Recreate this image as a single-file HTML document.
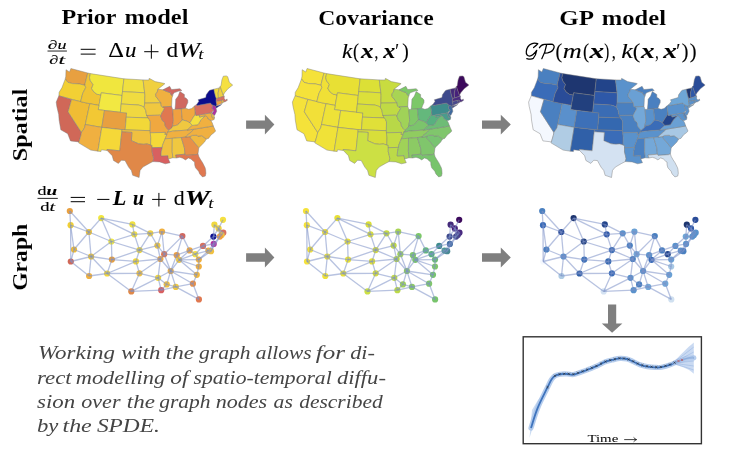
<!DOCTYPE html>
<html><head><meta charset="utf-8"><style>
html,body{margin:0;padding:0;background:#fff;width:737px;height:451px;overflow:hidden}
svg{display:block;filter:blur(0.4px)}
</style></head><body>
<svg width="737" height="451" viewBox="0 0 737 451" font-family='"Liberation Serif", serif'><rect width="737" height="451" fill="#ffffff"/><g stroke="#7c7c7c" stroke-width="0.45" stroke-linejoin="round"><path d="M66.0,69.7 L69.5,72.0 L70.9,68.5 L87.8,73.0 L85.1,83.5 L85.0,85.3 L79.1,83.9 L72.4,83.6 L67.8,82.3 L65.3,78.9 L65.8,76.2 L66.0,69.7Z" fill="#e8a040"/>
<path d="M65.3,78.9 L67.8,82.3 L72.4,83.6 L79.1,83.9 L85.0,85.3 L85.7,87.6 L83.3,92.3 L82.7,93.5 L80.6,101.7 L58.9,95.8 L59.1,92.3 L61.9,87.8 L65.3,78.9Z" fill="#f2d034"/>
<path d="M58.9,95.8 L71.6,99.5 L68.1,111.8 L81.5,132.5 L80.9,135.4 L79.0,141.9 L70.5,140.9 L67.7,133.7 L60.8,129.8 L59.1,120.0 L58.7,114.5 L56.8,106.4 L56.2,102.1 L58.9,95.8Z" fill="#d06858"/>
<path d="M71.6,99.5 L89.8,103.7 L85.3,124.5 L84.5,127.9 L81.5,132.5 L68.1,111.8Z" fill="#f0bc34"/>
<path d="M87.8,73.0 L90.4,73.6 L89.5,77.7 L90.4,80.9 L93.1,84.5 L91.6,88.5 L93.9,92.0 L97.2,94.3 L100.9,94.9 L99.0,105.4 L89.8,103.7 L80.6,101.7 L82.7,93.5 L83.3,92.3 L85.7,87.6 L85.0,85.3 L85.1,83.5Z" fill="#f0c434"/>
<path d="M90.4,73.6 L123.9,78.8 L122.1,95.5 L101.3,92.8 L100.9,94.9 L97.2,94.3 L93.9,92.0 L91.6,88.5 L93.1,84.5 L90.4,80.9 L89.5,77.7Z" fill="#f0e63e"/>
<path d="M101.3,92.8 L122.1,95.5 L120.3,112.4 L98.2,109.6Z" fill="#f2e842"/>
<path d="M89.8,103.7 L99.0,105.4 L98.2,109.6 L104.5,110.5 L101.8,127.4 L85.3,124.5Z" fill="#f2c834"/>
<path d="M104.5,110.5 L126.6,112.9 L125.2,129.9 L101.8,127.4Z" fill="#e8a040"/>
<path d="M85.3,124.5 L101.8,127.4 L97.9,151.2 L90.7,150.1 L78.5,142.8 L79.0,141.9 L80.9,135.4 L81.5,132.5 L84.5,127.9Z" fill="#f0b040"/>
<path d="M101.8,127.4 L122.0,129.7 L121.8,131.8 L119.8,150.8 L107.0,149.5 L107.2,150.5 L101.3,149.8 L101.0,151.6 L97.9,151.2Z" fill="#f5d838"/>
<path d="M123.9,78.8 L143.1,79.9 L144.7,92.8 L122.5,91.6Z" fill="#f0e040"/>
<path d="M122.5,91.6 L144.7,92.8 L144.9,95.5 L144.7,103.1 L144.2,107.3 L141.4,105.8 L138.3,105.0 L121.2,104.0Z" fill="#f0dc40"/>
<path d="M121.2,104.0 L138.3,105.0 L141.4,105.8 L144.2,107.3 L145.7,110.3 L146.3,113.7 L148.1,117.9 L126.3,117.2 L126.6,112.9 L120.3,112.4Z" fill="#f0d840"/>
<path d="M126.3,117.2 L148.1,117.9 L149.4,119.6 L150.3,121.8 L150.2,130.7 L125.2,129.9Z" fill="#f2d838"/>
<path d="M122.0,129.7 L150.2,130.7 L150.8,137.5 L150.6,145.0 L147.0,143.9 L143.5,144.3 L138.6,143.8 L133.1,141.4 L131.4,140.7 L131.9,132.4 L121.8,131.8Z" fill="#f0c040"/>
<path d="M121.8,131.8 L131.9,132.4 L131.4,140.7 L133.1,141.4 L138.6,143.8 L143.5,144.3 L147.0,143.9 L150.6,145.0 L152.1,145.4 L152.1,151.9 L153.0,155.3 L153.7,158.7 L152.9,161.6 L149.3,163.4 L142.9,167.1 L140.1,170.4 L139.1,177.5 L132.7,175.3 L131.4,170.6 L128.6,167.1 L125.0,160.5 L121.3,160.3 L118.4,163.4 L113.5,160.5 L112.2,155.7 L107.2,150.5 L107.0,149.5 L119.8,150.8Z" fill="#e08848"/>
<path d="M143.1,79.9 L149.0,80.0 L149.1,78.4 L150.0,78.7 L155.1,81.6 L163.8,83.3 L164.9,83.7 L157.9,89.2 L157.3,92.0 L155.6,94.1 L156.0,96.6 L160.9,102.8 L144.7,103.1 L144.9,95.5 L144.7,92.8Z" fill="#f0d040"/>
<path d="M144.7,103.1 L160.9,102.8 L161.3,106.2 L162.8,107.0 L164.4,108.6 L163.0,111.2 L161.8,113.0 L160.6,116.0 L159.7,115.2 L146.6,115.5 L146.3,113.7 L145.7,110.3 L144.2,107.3Z" fill="#f0c840"/>
<path d="M146.6,115.5 L159.7,115.2 L160.6,116.0 L162.4,120.6 L164.8,122.6 L165.2,126.0 L167.4,128.9 L168.8,130.3 L167.5,132.3 L167.0,134.4 L164.7,134.5 L165.3,132.4 L150.2,132.8 L150.2,130.7 L150.3,121.8 L149.4,119.6 L148.1,117.9Z" fill="#f0a840"/>
<path d="M150.2,132.8 L165.3,132.4 L164.7,134.5 L167.0,134.4 L165.1,138.8 L164.1,141.4 L162.5,145.3 L162.3,147.4 L152.1,147.7 L152.1,145.4 L150.6,145.0 L150.8,137.5Z" fill="#f5d838"/>
<path d="M152.1,147.7 L162.3,147.4 L161.3,151.7 L161.0,155.9 L167.9,155.6 L168.4,159.0 L170.1,162.7 L165.3,163.8 L159.7,161.9 L152.9,161.6 L153.7,158.7 L153.0,155.3 L152.1,151.9Z" fill="#d86060"/>
<path d="M157.9,89.2 L162.9,89.8 L166.8,91.5 L170.1,92.6 L171.5,95.4 L173.2,94.4 L172.0,97.9 L171.6,106.4 L162.8,107.0 L161.3,106.2 L160.9,102.8 L156.0,96.6 L155.6,94.1 L157.3,92.0Z" fill="#f0b040"/>
<path d="M162.8,107.0 L171.6,106.4 L172.7,109.7 L173.4,119.7 L173.3,121.6 L172.3,126.4 L172.0,127.7 L168.8,130.3 L167.4,128.9 L165.2,126.0 L164.8,122.6 L162.4,120.6 L160.6,116.0 L161.8,113.0 L163.0,111.2 L164.4,108.6Z" fill="#e07850"/>
<path d="M175.0,109.3 L181.3,108.9 L185.5,108.3 L186.3,105.8 L187.8,102.6 L187.8,100.0 L186.0,98.1 L184.4,97.5 L184.4,94.5 L179.9,91.6 L178.2,96.1 L175.7,99.3 L175.5,104.0 L175.0,109.3Z" fill="#d06860"/>
<path d="M162.9,89.8 L169.7,86.3 L171.4,89.5 L174.3,89.3 L179.9,88.7 L181.9,90.6 L178.9,91.1 L174.6,92.6 L171.5,95.4 L170.1,92.6 L166.8,91.5Z" fill="#d06860"/>
<path d="M172.7,109.5 L181.3,108.9 L182.3,119.9 L179.1,123.7 L177.2,125.1 L172.3,126.4 L173.3,121.6 L173.4,119.7Z" fill="#f0a040"/>
<path d="M181.3,108.9 L185.5,108.3 L188.7,109.3 L191.7,108.5 L194.5,106.0 L195.3,111.6 L195.2,114.4 L192.2,119.1 L190.0,122.8 L186.8,121.1 L182.3,119.9Z" fill="#f0a840"/>
<path d="M182.3,119.9 L186.8,121.1 L190.0,122.8 L192.4,125.4 L187.2,130.1 L172.3,131.2 L167.5,132.3 L168.8,130.3 L172.0,127.7 L172.3,126.4 L177.2,125.1 L179.1,123.7Z" fill="#f0c840"/>
<path d="M167.5,132.3 L172.3,131.2 L187.2,130.1 L193.9,129.2 L191.1,132.1 L186.7,135.7 L185.7,137.1 L172.3,138.3 L165.1,138.8 L167.0,134.4Z" fill="#f0b040"/>
<path d="M172.3,138.3 L165.1,138.8 L164.1,141.4 L162.5,145.3 L162.3,147.4 L161.3,151.7 L161.0,155.9 L167.9,155.6 L168.4,159.0 L172.8,157.8 L172.2,151.5Z" fill="#f0c040"/>
<path d="M172.3,138.3 L181.3,137.6 L184.4,147.9 L185.0,154.2 L175.6,155.1 L176.5,158.0 L172.8,157.8 L172.2,151.5Z" fill="#f0c840"/>
<path d="M181.3,137.6 L189.9,136.6 L190.8,138.2 L198.8,147.7 L198.0,153.8 L196.1,154.7 L185.6,155.4 L185.0,154.2 L184.4,147.9Z" fill="#e89048"/>
<path d="M175.6,155.1 L185.0,154.2 L185.6,155.4 L196.1,154.7 L198.0,153.8 L198.9,156.7 L200.7,159.8 L202.6,162.7 L205.1,167.7 L205.6,169.7 L205.9,173.4 L205.3,176.1 L202.5,176.9 L199.7,173.9 L198.6,171.2 L195.5,167.8 L194.7,164.9 L194.6,162.0 L193.1,161.1 L191.0,159.0 L188.3,157.9 L185.5,159.9 L182.8,158.2 L179.8,157.3 L176.5,158.0Z" fill="#e07850"/>
<path d="M189.9,136.6 L192.2,135.4 L197.1,135.2 L197.9,136.3 L201.7,135.7 L206.3,139.0 L204.5,142.1 L200.4,146.2 L198.8,147.7 L190.8,138.2Z" fill="#f0b840"/>
<path d="M185.7,137.1 L189.9,136.6 L192.2,135.4 L197.1,135.2 L197.9,136.3 L201.7,135.7 L206.3,139.0 L208.5,138.4 L211.1,134.9 L214.2,132.6 L215.6,131.0 L213.3,126.0 L193.9,129.2 L191.1,132.1 L186.7,135.7Z" fill="#f0b040"/>
<path d="M187.2,130.1 L193.9,129.2 L213.3,126.0 L212.3,123.0 L210.8,120.3 L208.2,119.0 L207.7,117.4 L206.0,116.0 L205.2,115.6 L203.4,117.3 L200.9,119.9 L198.0,124.7 L192.4,125.4Z" fill="#f0b040"/>
<path d="M195.3,111.6 L195.9,115.5 L199.2,114.9 L199.6,117.1 L205.2,115.6 L203.4,117.3 L200.9,119.9 L198.0,124.7 L192.4,125.4 L190.0,122.8 L192.2,119.1 L195.2,114.4Z" fill="#f5e040"/>
<path d="M199.2,114.9 L211.0,112.8 L212.4,117.9 L214.5,117.6 L214.2,119.4 L211.8,120.5 L210.8,120.3 L208.2,119.0 L207.7,117.4 L206.0,116.0 L205.2,115.6 L199.6,117.1Z" fill="#f0b040"/>
<path d="M211.0,112.8 L211.9,112.1 L212.5,113.4 L214.2,116.2 L214.5,117.6 L212.4,117.9Z" fill="#f0c040"/>
<path d="M194.5,105.9 L196.7,104.4 L196.9,105.5 L210.5,103.0 L211.6,104.5 L213.1,105.2 L212.2,107.4 L212.2,108.7 L214.1,110.2 L211.9,112.1 L211.0,112.8 L195.9,115.5Z" fill="#d87060"/>
<path d="M213.1,105.2 L215.9,106.2 L216.0,108.3 L216.7,111.2 L214.6,115.4 L212.1,113.5 L214.1,110.2 L212.2,108.7 L212.2,107.4Z" fill="#b030a0"/>
<path d="M196.9,105.5 L196.7,104.4 L198.9,101.3 L198.1,99.8 L205.8,97.5 L206.2,94.8 L209.1,90.8 L209.9,90.2 L213.9,89.2 L215.2,95.0 L216.3,98.5 L216.2,101.5 L216.9,104.6 L216.5,106.1 L221.7,104.4 L216.3,108.0 L215.9,107.5 L215.9,106.2 L213.1,105.2 L211.6,104.5 L210.5,103.0Z" fill="#0c0c8c"/>
<path d="M213.9,89.2 L219.3,87.9 L218.1,93.0 L218.4,98.0 L216.3,98.5 L215.2,95.0Z" fill="#f0d840"/>
<path d="M219.3,87.9 L220.2,86.4 L223.3,95.2 L224.2,96.0 L218.4,98.0 L218.1,93.0Z" fill="#f0d040"/>
<path d="M220.2,86.4 L221.0,85.8 L221.9,79.9 L223.3,76.2 L226.3,75.9 L227.7,76.7 L229.3,82.2 L232.7,85.1 L228.0,88.7 L224.6,92.7 L223.3,95.2Z" fill="#f5e040"/>
<path d="M216.2,101.5 L216.3,98.5 L218.4,98.0 L224.2,96.0 L224.2,98.5 L225.6,100.3 L226.9,98.9 L227.4,100.3 L225.3,101.7 L224.0,102.0 L222.7,100.1 L221.4,100.4Z" fill="#d87060"/>
<path d="M221.4,100.4 L222.7,100.1 L224.0,102.0 L222.0,103.3Z" fill="#f0c040"/>
<path d="M216.2,101.5 L221.4,100.4 L222.0,103.3 L218.8,104.6 L216.5,106.1 L216.9,104.6Z" fill="#f0a040"/></g><g stroke="#7c7c7c" stroke-width="0.45" stroke-linejoin="round"><path d="M302.2,69.7 L305.7,72.0 L307.1,68.5 L324.0,73.0 L321.3,83.5 L321.2,85.3 L315.3,83.9 L308.6,83.6 L304.0,82.3 L301.5,78.9 L302.0,76.2 L302.2,69.7Z" fill="#f5e23a"/>
<path d="M301.5,78.9 L304.0,82.3 L308.6,83.6 L315.3,83.9 L321.2,85.3 L321.9,87.6 L319.5,92.3 L318.9,93.5 L316.8,101.7 L295.1,95.8 L295.3,92.3 L298.1,87.8 L301.5,78.9Z" fill="#f5e23a"/>
<path d="M295.1,95.8 L307.8,99.5 L304.3,111.8 L317.7,132.5 L317.1,135.4 L315.2,141.9 L306.7,140.9 L303.9,133.7 L297.0,129.8 L295.3,120.0 L294.9,114.5 L293.0,106.4 L292.4,102.1 L295.1,95.8Z" fill="#f5e23a"/>
<path d="M307.8,99.5 L326.0,103.7 L321.5,124.5 L320.7,127.9 L317.7,132.5 L304.3,111.8Z" fill="#f2e038"/>
<path d="M324.0,73.0 L326.6,73.6 L325.7,77.7 L326.6,80.9 L329.3,84.5 L327.8,88.5 L330.1,92.0 L333.4,94.3 L337.1,94.9 L335.2,105.4 L326.0,103.7 L316.8,101.7 L318.9,93.5 L319.5,92.3 L321.9,87.6 L321.2,85.3 L321.3,83.5Z" fill="#f0e036"/>
<path d="M326.6,73.6 L360.1,78.8 L358.3,95.5 L337.5,92.8 L337.1,94.9 L333.4,94.3 L330.1,92.0 L327.8,88.5 L329.3,84.5 L326.6,80.9 L325.7,77.7Z" fill="#e8e034"/>
<path d="M337.5,92.8 L358.3,95.5 L356.5,112.4 L334.4,109.6Z" fill="#ece236"/>
<path d="M326.0,103.7 L335.2,105.4 L334.4,109.6 L340.7,110.5 L338.0,127.4 L321.5,124.5Z" fill="#eee238"/>
<path d="M340.7,110.5 L362.8,112.9 L361.4,129.9 L338.0,127.4Z" fill="#ece436"/>
<path d="M321.5,124.5 L338.0,127.4 L334.1,151.2 L326.9,150.1 L314.7,142.8 L315.2,141.9 L317.1,135.4 L317.7,132.5 L320.7,127.9Z" fill="#f0e238"/>
<path d="M338.0,127.4 L358.2,129.7 L358.0,131.8 L356.0,150.8 L343.2,149.5 L343.4,150.5 L337.5,149.8 L337.2,151.6 L334.1,151.2Z" fill="#e8e038"/>
<path d="M360.1,78.8 L379.3,79.9 L380.9,92.8 L358.7,91.6Z" fill="#dce036"/>
<path d="M358.7,91.6 L380.9,92.8 L381.1,95.5 L380.9,103.1 L380.4,107.3 L377.6,105.8 L374.5,105.0 L357.4,104.0Z" fill="#dce03a"/>
<path d="M357.4,104.0 L374.5,105.0 L377.6,105.8 L380.4,107.3 L381.9,110.3 L382.5,113.7 L384.3,117.9 L362.5,117.2 L362.8,112.9 L356.5,112.4Z" fill="#d8de3a"/>
<path d="M362.5,117.2 L384.3,117.9 L385.6,119.6 L386.5,121.8 L386.4,130.7 L361.4,129.9Z" fill="#e0e038"/>
<path d="M358.2,129.7 L386.4,130.7 L387.0,137.5 L386.8,145.0 L383.2,143.9 L379.7,144.3 L374.8,143.8 L369.3,141.4 L367.6,140.7 L368.1,132.4 L358.0,131.8Z" fill="#d8de3a"/>
<path d="M358.0,131.8 L368.1,132.4 L367.6,140.7 L369.3,141.4 L374.8,143.8 L379.7,144.3 L383.2,143.9 L386.8,145.0 L388.3,145.4 L388.3,151.9 L389.2,155.3 L389.9,158.7 L389.1,161.6 L385.5,163.4 L379.1,167.1 L376.3,170.4 L375.3,177.5 L368.9,175.3 L367.6,170.6 L364.8,167.1 L361.2,160.5 L357.5,160.3 L354.6,163.4 L349.7,160.5 L348.4,155.7 L343.4,150.5 L343.2,149.5 L356.0,150.8Z" fill="#cce044"/>
<path d="M379.3,79.9 L385.2,80.0 L385.3,78.4 L386.2,78.7 L391.3,81.6 L400.0,83.3 L401.1,83.7 L394.1,89.2 L393.5,92.0 L391.8,94.1 L392.2,96.6 L397.1,102.8 L380.9,103.1 L381.1,95.5 L380.9,92.8Z" fill="#c8dc40"/>
<path d="M380.9,103.1 L397.1,102.8 L397.5,106.2 L399.0,107.0 L400.6,108.6 L399.2,111.2 L398.0,113.0 L396.8,116.0 L395.9,115.2 L382.8,115.5 L382.5,113.7 L381.9,110.3 L380.4,107.3Z" fill="#c0da44"/>
<path d="M382.8,115.5 L395.9,115.2 L396.8,116.0 L398.6,120.6 L401.0,122.6 L401.4,126.0 L403.6,128.9 L405.0,130.3 L403.7,132.3 L403.2,134.4 L400.9,134.5 L401.5,132.4 L386.4,132.8 L386.4,130.7 L386.5,121.8 L385.6,119.6 L384.3,117.9Z" fill="#b8d848"/>
<path d="M386.4,132.8 L401.5,132.4 L400.9,134.5 L403.2,134.4 L401.3,138.8 L400.3,141.4 L398.7,145.3 L398.5,147.4 L388.3,147.7 L388.3,145.4 L386.8,145.0 L387.0,137.5Z" fill="#c4dc44"/>
<path d="M388.3,147.7 L398.5,147.4 L397.5,151.7 L397.2,155.9 L404.1,155.6 L404.6,159.0 L406.3,162.7 L401.5,163.8 L395.9,161.9 L389.1,161.6 L389.9,158.7 L389.2,155.3 L388.3,151.9Z" fill="#bcda48"/>
<path d="M394.1,89.2 L399.1,89.8 L403.0,91.5 L406.3,92.6 L407.7,95.4 L409.4,94.4 L408.2,97.9 L407.8,106.4 L399.0,107.0 L397.5,106.2 L397.1,102.8 L392.2,96.6 L391.8,94.1 L393.5,92.0Z" fill="#a8d454"/>
<path d="M399.0,107.0 L407.8,106.4 L408.9,109.7 L409.6,119.7 L409.5,121.6 L408.5,126.4 L408.2,127.7 L405.0,130.3 L403.6,128.9 L401.4,126.0 L401.0,122.6 L398.6,120.6 L396.8,116.0 L398.0,113.0 L399.2,111.2 L400.6,108.6Z" fill="#a0d258"/>
<path d="M411.2,109.3 L417.5,108.9 L421.7,108.3 L422.5,105.8 L424.0,102.6 L424.0,100.0 L422.2,98.1 L420.6,97.5 L420.6,94.5 L416.1,91.6 L414.4,96.1 L411.9,99.3 L411.7,104.0 L411.2,109.3Z" fill="#7cc868"/>
<path d="M399.1,89.8 L405.9,86.3 L407.6,89.5 L410.5,89.3 L416.1,88.7 L418.1,90.6 L415.1,91.1 L410.8,92.6 L407.7,95.4 L406.3,92.6 L403.0,91.5Z" fill="#7cc868"/>
<path d="M408.9,109.5 L417.5,108.9 L418.5,119.9 L415.3,123.7 L413.4,125.1 L408.5,126.4 L409.5,121.6 L409.6,119.7Z" fill="#80c868"/>
<path d="M417.5,108.9 L421.7,108.3 L424.9,109.3 L427.9,108.5 L430.7,106.0 L431.5,111.6 L431.4,114.4 L428.4,119.1 L426.2,122.8 L423.0,121.1 L418.5,119.9Z" fill="#64b87c"/>
<path d="M418.5,119.9 L423.0,121.1 L426.2,122.8 L428.6,125.4 L423.4,130.1 L408.5,131.2 L403.7,132.3 L405.0,130.3 L408.2,127.7 L408.5,126.4 L413.4,125.1 L415.3,123.7Z" fill="#7cc46c"/>
<path d="M403.7,132.3 L408.5,131.2 L423.4,130.1 L430.1,129.2 L427.3,132.1 L422.9,135.7 L421.9,137.1 L408.5,138.3 L401.3,138.8 L403.2,134.4Z" fill="#90cc60"/>
<path d="M408.5,138.3 L401.3,138.8 L400.3,141.4 L398.7,145.3 L398.5,147.4 L397.5,151.7 L397.2,155.9 L404.1,155.6 L404.6,159.0 L409.0,157.8 L408.4,151.5Z" fill="#a0d258"/>
<path d="M408.5,138.3 L417.5,137.6 L420.6,147.9 L421.2,154.2 L411.8,155.1 L412.7,158.0 L409.0,157.8 L408.4,151.5Z" fill="#8cca64"/>
<path d="M417.5,137.6 L426.1,136.6 L427.0,138.2 L435.0,147.7 L434.2,153.8 L432.3,154.7 L421.8,155.4 L421.2,154.2 L420.6,147.9Z" fill="#80c66c"/>
<path d="M411.8,155.1 L421.2,154.2 L421.8,155.4 L432.3,154.7 L434.2,153.8 L435.1,156.7 L436.9,159.8 L438.8,162.7 L441.3,167.7 L441.8,169.7 L442.1,173.4 L441.5,176.1 L438.7,176.9 L435.9,173.9 L434.8,171.2 L431.7,167.8 L430.9,164.9 L430.8,162.0 L429.3,161.1 L427.2,159.0 L424.5,157.9 L421.7,159.9 L419.0,158.2 L416.0,157.3 L412.7,158.0Z" fill="#78c46c"/>
<path d="M426.1,136.6 L428.4,135.4 L433.3,135.2 L434.1,136.3 L437.9,135.7 L442.5,139.0 L440.7,142.1 L436.6,146.2 L435.0,147.7 L427.0,138.2Z" fill="#78c470"/>
<path d="M421.9,137.1 L426.1,136.6 L428.4,135.4 L433.3,135.2 L434.1,136.3 L437.9,135.7 L442.5,139.0 L444.7,138.4 L447.3,134.9 L450.4,132.6 L451.8,131.0 L449.5,126.0 L430.1,129.2 L427.3,132.1 L422.9,135.7Z" fill="#80c66c"/>
<path d="M423.4,130.1 L430.1,129.2 L449.5,126.0 L448.5,123.0 L447.0,120.3 L444.4,119.0 L443.9,117.4 L442.2,116.0 L441.4,115.6 L439.6,117.3 L437.1,119.9 L434.2,124.7 L428.6,125.4Z" fill="#6ebc76"/>
<path d="M431.5,111.6 L432.1,115.5 L435.4,114.9 L435.8,117.1 L441.4,115.6 L439.6,117.3 L437.1,119.9 L434.2,124.7 L428.6,125.4 L426.2,122.8 L428.4,119.1 L431.4,114.4Z" fill="#58b080"/>
<path d="M435.4,114.9 L447.2,112.8 L448.6,117.9 L450.7,117.6 L450.4,119.4 L448.0,120.5 L447.0,120.3 L444.4,119.0 L443.9,117.4 L442.2,116.0 L441.4,115.6 L435.8,117.1Z" fill="#4a9c8c"/>
<path d="M447.2,112.8 L448.1,112.1 L448.7,113.4 L450.4,116.2 L450.7,117.6 L448.6,117.9Z" fill="#4a8a94"/>
<path d="M430.7,105.9 L432.9,104.4 L433.1,105.5 L446.7,103.0 L447.8,104.5 L449.3,105.2 L448.4,107.4 L448.4,108.7 L450.3,110.2 L448.1,112.1 L447.2,112.8 L432.1,115.5Z" fill="#3e8c8c"/>
<path d="M449.3,105.2 L452.1,106.2 L452.2,108.3 L452.9,111.2 L450.8,115.4 L448.3,113.5 L450.3,110.2 L448.4,108.7 L448.4,107.4Z" fill="#3e6aa0"/>
<path d="M433.1,105.5 L432.9,104.4 L435.1,101.3 L434.3,99.8 L442.0,97.5 L442.4,94.8 L445.3,90.8 L446.1,90.2 L450.1,89.2 L451.4,95.0 L452.5,98.5 L452.4,101.5 L453.1,104.6 L452.7,106.1 L457.9,104.4 L452.5,108.0 L452.1,107.5 L452.1,106.2 L449.3,105.2 L447.8,104.5 L446.7,103.0Z" fill="#3e4a8c"/>
<path d="M450.1,89.2 L455.5,87.9 L454.3,93.0 L454.6,98.0 L452.5,98.5 L451.4,95.0Z" fill="#442a7a"/>
<path d="M455.5,87.9 L456.4,86.4 L459.5,95.2 L460.4,96.0 L454.6,98.0 L454.3,93.0Z" fill="#46207a"/>
<path d="M456.4,86.4 L457.2,85.8 L458.1,79.9 L459.5,76.2 L462.5,75.9 L463.9,76.7 L465.5,82.2 L468.9,85.1 L464.2,88.7 L460.8,92.7 L459.5,95.2Z" fill="#3c0a5c"/>
<path d="M452.4,101.5 L452.5,98.5 L454.6,98.0 L460.4,96.0 L460.4,98.5 L461.8,100.3 L463.1,98.9 L463.6,100.3 L461.5,101.7 L460.2,102.0 L458.9,100.1 L457.6,100.4Z" fill="#4a2a80"/>
<path d="M457.6,100.4 L458.9,100.1 L460.2,102.0 L458.2,103.3Z" fill="#4a3a88"/>
<path d="M452.4,101.5 L457.6,100.4 L458.2,103.3 L455.0,104.6 L452.7,106.1 L453.1,104.6Z" fill="#48488c"/></g><g stroke="#7c7c7c" stroke-width="0.45" stroke-linejoin="round"><path d="M538.4,69.7 L541.9,72.0 L543.3,68.5 L560.2,73.0 L557.5,83.5 L557.4,85.3 L551.5,83.9 L544.8,83.6 L540.2,82.3 L537.7,78.9 L538.2,76.2 L538.4,69.7Z" fill="#4a80c0"/>
<path d="M537.7,78.9 L540.2,82.3 L544.8,83.6 L551.5,83.9 L557.4,85.3 L558.1,87.6 L555.7,92.3 L555.1,93.5 L553.0,101.7 L531.3,95.8 L531.5,92.3 L534.3,87.8 L537.7,78.9Z" fill="#3a6cb8"/>
<path d="M531.3,95.8 L544.0,99.5 L540.5,111.8 L553.9,132.5 L553.3,135.4 L551.4,141.9 L542.9,140.9 L540.1,133.7 L533.2,129.8 L531.5,120.0 L531.1,114.5 L529.2,106.4 L528.6,102.1 L531.3,95.8Z" fill="#f4f8fe"/>
<path d="M544.0,99.5 L562.2,103.7 L557.7,124.5 L556.9,127.9 L553.9,132.5 L540.5,111.8Z" fill="#4a80c0"/>
<path d="M560.2,73.0 L562.8,73.6 L561.9,77.7 L562.8,80.9 L565.5,84.5 L564.0,88.5 L566.3,92.0 L569.6,94.3 L573.3,94.9 L571.4,105.4 L562.2,103.7 L553.0,101.7 L555.1,93.5 L555.7,92.3 L558.1,87.6 L557.4,85.3 L557.5,83.5Z" fill="#2a4c98"/>
<path d="M562.8,73.6 L596.3,78.8 L594.5,95.5 L573.7,92.8 L573.3,94.9 L569.6,94.3 L566.3,92.0 L564.0,88.5 L565.5,84.5 L562.8,80.9 L561.9,77.7Z" fill="#1e3670"/>
<path d="M573.7,92.8 L594.5,95.5 L592.7,112.4 L570.6,109.6Z" fill="#22407e"/>
<path d="M562.2,103.7 L571.4,105.4 L570.6,109.6 L576.9,110.5 L574.2,127.4 L557.7,124.5Z" fill="#5a90cc"/>
<path d="M576.9,110.5 L599.0,112.9 L597.6,129.9 L574.2,127.4Z" fill="#3d70b8"/>
<path d="M557.7,124.5 L574.2,127.4 L570.3,151.2 L563.1,150.1 L550.9,142.8 L551.4,141.9 L553.3,135.4 L553.9,132.5 L556.9,127.9Z" fill="#b0cce4"/>
<path d="M574.2,127.4 L594.4,129.7 L594.2,131.8 L592.2,150.8 L579.4,149.5 L579.6,150.5 L573.7,149.8 L573.4,151.6 L570.3,151.2Z" fill="#3060a8"/>
<path d="M596.3,78.8 L615.5,79.9 L617.1,92.8 L594.9,91.6Z" fill="#22448a"/>
<path d="M594.9,91.6 L617.1,92.8 L617.3,95.5 L617.1,103.1 L616.6,107.3 L613.8,105.8 L610.7,105.0 L593.6,104.0Z" fill="#2e58a8"/>
<path d="M593.6,104.0 L610.7,105.0 L613.8,105.8 L616.6,107.3 L618.1,110.3 L618.7,113.7 L620.5,117.9 L598.7,117.2 L599.0,112.9 L592.7,112.4Z" fill="#3a6cb4"/>
<path d="M598.7,117.2 L620.5,117.9 L621.8,119.6 L622.7,121.8 L622.6,130.7 L597.6,129.9Z" fill="#3468b0"/>
<path d="M594.4,129.7 L622.6,130.7 L623.2,137.5 L623.0,145.0 L619.4,143.9 L615.9,144.3 L611.0,143.8 L605.5,141.4 L603.8,140.7 L604.3,132.4 L594.2,131.8Z" fill="#3a6cb8"/>
<path d="M594.2,131.8 L604.3,132.4 L603.8,140.7 L605.5,141.4 L611.0,143.8 L615.9,144.3 L619.4,143.9 L623.0,145.0 L624.5,145.4 L624.5,151.9 L625.4,155.3 L626.1,158.7 L625.3,161.6 L621.7,163.4 L615.3,167.1 L612.5,170.4 L611.5,177.5 L605.1,175.3 L603.8,170.6 L601.0,167.1 L597.4,160.5 L593.7,160.3 L590.8,163.4 L585.9,160.5 L584.6,155.7 L579.6,150.5 L579.4,149.5 L592.2,150.8Z" fill="#d4e2f2"/>
<path d="M615.5,79.9 L621.4,80.0 L621.5,78.4 L622.4,78.7 L627.5,81.6 L636.2,83.3 L637.3,83.7 L630.3,89.2 L629.7,92.0 L628.0,94.1 L628.4,96.6 L633.3,102.8 L617.1,103.1 L617.3,95.5 L617.1,92.8Z" fill="#5a92cc"/>
<path d="M617.1,103.1 L633.3,102.8 L633.7,106.2 L635.2,107.0 L636.8,108.6 L635.4,111.2 L634.2,113.0 L633.0,116.0 L632.1,115.2 L619.0,115.5 L618.7,113.7 L618.1,110.3 L616.6,107.3Z" fill="#4a80c0"/>
<path d="M619.0,115.5 L632.1,115.2 L633.0,116.0 L634.8,120.6 L637.2,122.6 L637.6,126.0 L639.8,128.9 L641.2,130.3 L639.9,132.3 L639.4,134.4 L637.1,134.5 L637.7,132.4 L622.6,132.8 L622.6,130.7 L622.7,121.8 L621.8,119.6 L620.5,117.9Z" fill="#4a80c0"/>
<path d="M622.6,132.8 L637.7,132.4 L637.1,134.5 L639.4,134.4 L637.5,138.8 L636.5,141.4 L634.9,145.3 L634.7,147.4 L624.5,147.7 L624.5,145.4 L623.0,145.0 L623.2,137.5Z" fill="#5a92cc"/>
<path d="M624.5,147.7 L634.7,147.4 L633.7,151.7 L633.4,155.9 L640.3,155.6 L640.8,159.0 L642.5,162.7 L637.7,163.8 L632.1,161.9 L625.3,161.6 L626.1,158.7 L625.4,155.3 L624.5,151.9Z" fill="#5a92cc"/>
<path d="M630.3,89.2 L635.3,89.8 L639.2,91.5 L642.5,92.6 L643.9,95.4 L645.6,94.4 L644.4,97.9 L644.0,106.4 L635.2,107.0 L633.7,106.2 L633.3,102.8 L628.4,96.6 L628.0,94.1 L629.7,92.0Z" fill="#6aa0d4"/>
<path d="M635.2,107.0 L644.0,106.4 L645.1,109.7 L645.8,119.7 L645.7,121.6 L644.7,126.4 L644.4,127.7 L641.2,130.3 L639.8,128.9 L637.6,126.0 L637.2,122.6 L634.8,120.6 L633.0,116.0 L634.2,113.0 L635.4,111.2 L636.8,108.6Z" fill="#74a8d8"/>
<path d="M647.4,109.3 L653.7,108.9 L657.9,108.3 L658.7,105.8 L660.2,102.6 L660.2,100.0 L658.4,98.1 L656.8,97.5 L656.8,94.5 L652.3,91.6 L650.6,96.1 L648.1,99.3 L647.9,104.0 L647.4,109.3Z" fill="#4a80c0"/>
<path d="M635.3,89.8 L642.1,86.3 L643.8,89.5 L646.7,89.3 L652.3,88.7 L654.3,90.6 L651.3,91.1 L647.0,92.6 L643.9,95.4 L642.5,92.6 L639.2,91.5Z" fill="#4a80c0"/>
<path d="M645.1,109.5 L653.7,108.9 L654.7,119.9 L651.5,123.7 L649.6,125.1 L644.7,126.4 L645.7,121.6 L645.8,119.7Z" fill="#5a92cc"/>
<path d="M653.7,108.9 L657.9,108.3 L661.1,109.3 L664.1,108.5 L666.9,106.0 L667.7,111.6 L667.6,114.4 L664.6,119.1 L662.4,122.8 L659.2,121.1 L654.7,119.9Z" fill="#4a80c0"/>
<path d="M654.7,119.9 L659.2,121.1 L662.4,122.8 L664.8,125.4 L659.6,130.1 L644.7,131.2 L639.9,132.3 L641.2,130.3 L644.4,127.7 L644.7,126.4 L649.6,125.1 L651.5,123.7Z" fill="#3a6cb8"/>
<path d="M639.9,132.3 L644.7,131.2 L659.6,130.1 L666.3,129.2 L663.5,132.1 L659.1,135.7 L658.1,137.1 L644.7,138.3 L637.5,138.8 L639.4,134.4Z" fill="#5a92cc"/>
<path d="M644.7,138.3 L637.5,138.8 L636.5,141.4 L634.9,145.3 L634.7,147.4 L633.7,151.7 L633.4,155.9 L640.3,155.6 L640.8,159.0 L645.2,157.8 L644.6,151.5Z" fill="#4a80c0"/>
<path d="M644.7,138.3 L653.7,137.6 L656.8,147.9 L657.4,154.2 L648.0,155.1 L648.9,158.0 L645.2,157.8 L644.6,151.5Z" fill="#74a8d8"/>
<path d="M653.7,137.6 L662.3,136.6 L663.2,138.2 L671.2,147.7 L670.4,153.8 L668.5,154.7 L658.0,155.4 L657.4,154.2 L656.8,147.9Z" fill="#74a8d8"/>
<path d="M648.0,155.1 L657.4,154.2 L658.0,155.4 L668.5,154.7 L670.4,153.8 L671.3,156.7 L673.1,159.8 L675.0,162.7 L677.5,167.7 L678.0,169.7 L678.3,173.4 L677.7,176.1 L674.9,176.9 L672.1,173.9 L671.0,171.2 L667.9,167.8 L667.1,164.9 L667.0,162.0 L665.5,161.1 L663.4,159.0 L660.7,157.9 L657.9,159.9 L655.2,158.2 L652.2,157.3 L648.9,158.0Z" fill="#d0e0f0"/>
<path d="M662.3,136.6 L664.6,135.4 L669.5,135.2 L670.3,136.3 L674.1,135.7 L678.7,139.0 L676.9,142.1 L672.8,146.2 L671.2,147.7 L663.2,138.2Z" fill="#6aa0d4"/>
<path d="M658.1,137.1 L662.3,136.6 L664.6,135.4 L669.5,135.2 L670.3,136.3 L674.1,135.7 L678.7,139.0 L680.9,138.4 L683.5,134.9 L686.6,132.6 L688.0,131.0 L685.7,126.0 L666.3,129.2 L663.5,132.1 L659.1,135.7Z" fill="#a8c8e4"/>
<path d="M659.6,130.1 L666.3,129.2 L685.7,126.0 L684.7,123.0 L683.2,120.3 L680.6,119.0 L680.1,117.4 L678.4,116.0 L677.6,115.6 L675.8,117.3 L673.3,119.9 L670.4,124.7 L664.8,125.4Z" fill="#6aa0d4"/>
<path d="M667.7,111.6 L668.3,115.5 L671.6,114.9 L672.0,117.1 L677.6,115.6 L675.8,117.3 L673.3,119.9 L670.4,124.7 L664.8,125.4 L662.4,122.8 L664.6,119.1 L667.6,114.4Z" fill="#22448a"/>
<path d="M671.6,114.9 L683.4,112.8 L684.8,117.9 L686.9,117.6 L686.6,119.4 L684.2,120.5 L683.2,120.3 L680.6,119.0 L680.1,117.4 L678.4,116.0 L677.6,115.6 L672.0,117.1Z" fill="#5a92cc"/>
<path d="M683.4,112.8 L684.3,112.1 L684.9,113.4 L686.6,116.2 L686.9,117.6 L684.8,117.9Z" fill="#4a80c0"/>
<path d="M666.9,105.9 L669.1,104.4 L669.3,105.5 L682.9,103.0 L684.0,104.5 L685.5,105.2 L684.6,107.4 L684.6,108.7 L686.5,110.2 L684.3,112.1 L683.4,112.8 L668.3,115.5Z" fill="#5a92cc"/>
<path d="M685.5,105.2 L688.3,106.2 L688.4,108.3 L689.1,111.2 L687.0,115.4 L684.5,113.5 L686.5,110.2 L684.6,108.7 L684.6,107.4Z" fill="#5a92cc"/>
<path d="M669.3,105.5 L669.1,104.4 L671.3,101.3 L670.5,99.8 L678.2,97.5 L678.6,94.8 L681.5,90.8 L682.3,90.2 L686.3,89.2 L687.6,95.0 L688.7,98.5 L688.6,101.5 L689.3,104.6 L688.9,106.1 L694.1,104.4 L688.7,108.0 L688.3,107.5 L688.3,106.2 L685.5,105.2 L684.0,104.5 L682.9,103.0Z" fill="#6ea6d6"/>
<path d="M686.3,89.2 L691.7,87.9 L690.5,93.0 L690.8,98.0 L688.7,98.5 L687.6,95.0Z" fill="#1e3670"/>
<path d="M691.7,87.9 L692.6,86.4 L695.7,95.2 L696.6,96.0 L690.8,98.0 L690.5,93.0Z" fill="#2e58a8"/>
<path d="M692.6,86.4 L693.4,85.8 L694.3,79.9 L695.7,76.2 L698.7,75.9 L700.1,76.7 L701.7,82.2 L705.1,85.1 L700.4,88.7 L697.0,92.7 L695.7,95.2Z" fill="#2a4c98"/>
<path d="M688.6,101.5 L688.7,98.5 L690.8,98.0 L696.6,96.0 L696.6,98.5 L698.0,100.3 L699.3,98.9 L699.8,100.3 L697.7,101.7 L696.4,102.0 L695.1,100.1 L693.8,100.4Z" fill="#5a92cc"/>
<path d="M693.8,100.4 L695.1,100.1 L696.4,102.0 L694.4,103.3Z" fill="#5a92cc"/>
<path d="M688.6,101.5 L693.8,100.4 L694.4,103.3 L691.2,104.6 L688.9,106.1 L689.3,104.6Z" fill="#5a92cc"/></g><g>
<circle cx="69.8" cy="211.0" r="3.1" fill="#e8a040" fill-opacity="1.0"/>
<circle cx="70.6" cy="225.2" r="3.1" fill="#f2d034" fill-opacity="1.0"/>
<circle cx="88.9" cy="232.0" r="3.1" fill="#f0c434" fill-opacity="1.0"/>
<circle cx="101.2" cy="218.1" r="3.1" fill="#f0e63e" fill-opacity="1.0"/>
<circle cx="132.4" cy="224.4" r="3.1" fill="#f0e040" fill-opacity="1.0"/>
<circle cx="134.3" cy="234.3" r="3.1" fill="#f0dc40" fill-opacity="1.0"/>
<circle cx="111.4" cy="241.5" r="3.1" fill="#f2e842" fill-opacity="1.0"/>
<circle cx="74.0" cy="249.5" r="3.1" fill="#f0bc34" fill-opacity="1.0"/>
<circle cx="91.1" cy="256.5" r="3.1" fill="#f2c834" fill-opacity="1.0"/>
<circle cx="139.5" cy="250.1" r="3.1" fill="#f0d840" fill-opacity="1.0"/>
<circle cx="111.9" cy="259.6" r="3.1" fill="#e8a040" fill-opacity="1.0"/>
<circle cx="70.8" cy="261.5" r="3.1" fill="#d06858" fill-opacity="1.0"/>
<circle cx="135.9" cy="261.4" r="3.1" fill="#f2d838" fill-opacity="1.0"/>
<circle cx="89.1" cy="276.0" r="3.1" fill="#f0b040" fill-opacity="1.0"/>
<circle cx="107.1" cy="273.5" r="3.1" fill="#f5d838" fill-opacity="1.0"/>
<circle cx="139.5" cy="273.3" r="3.1" fill="#f0c040" fill-opacity="1.0"/>
<circle cx="131.3" cy="291.4" r="3.1" fill="#e08848" fill-opacity="1.0"/>
<circle cx="150.3" cy="233.3" r="3.1" fill="#f0d040" fill-opacity="1.0"/>
<circle cx="162.0" cy="231.7" r="3.1" fill="#f0b040" fill-opacity="1.0"/>
<circle cx="182.4" cy="236.1" r="3.1" fill="#d06860" fill-opacity="1.0"/>
<circle cx="157.4" cy="245.6" r="3.1" fill="#f0c840" fill-opacity="1.0"/>
<circle cx="164.2" cy="254.2" r="3.1" fill="#e07850" fill-opacity="1.0"/>
<circle cx="160.4" cy="259.0" r="3.1" fill="#f0a840" fill-opacity="1.0"/>
<circle cx="176.7" cy="255.2" r="3.1" fill="#f0a040" fill-opacity="1.0"/>
<circle cx="179.1" cy="259.8" r="3.1" fill="#f0c840" fill-opacity="1.0"/>
<circle cx="189.6" cy="250.4" r="3.1" fill="#f0a840" fill-opacity="1.0"/>
<circle cx="195.3" cy="254.2" r="3.1" fill="#f5e040" fill-opacity="1.0"/>
<circle cx="198.8" cy="259.6" r="3.1" fill="#f0b040" fill-opacity="1.0"/>
<circle cx="170.7" cy="271.0" r="3.1" fill="#f0b040" fill-opacity="1.0"/>
<circle cx="198.8" cy="266.5" r="3.1" fill="#f0b040" fill-opacity="1.0"/>
<circle cx="196.8" cy="274.8" r="3.1" fill="#f0b840" fill-opacity="1.0"/>
<circle cx="158.1" cy="277.8" r="3.1" fill="#f5d838" fill-opacity="1.0"/>
<circle cx="166.7" cy="284.4" r="3.1" fill="#f0c040" fill-opacity="1.0"/>
<circle cx="175.8" cy="286.9" r="3.1" fill="#f0c840" fill-opacity="1.0"/>
<circle cx="192.9" cy="283.7" r="3.1" fill="#e89048" fill-opacity="1.0"/>
<circle cx="161.2" cy="290.2" r="3.1" fill="#d86060" fill-opacity="1.0"/>
<circle cx="198.9" cy="299.4" r="3.1" fill="#e07850" fill-opacity="1.0"/>
<circle cx="203.0" cy="245.9" r="3.1" fill="#d87060" fill-opacity="1.0"/>
<circle cx="213.7" cy="243.9" r="3.1" fill="#b030a0" fill-opacity="1.0"/>
<circle cx="208.4" cy="250.7" r="3.1" fill="#f0b040" fill-opacity="1.0"/>
<circle cx="211.0" cy="251.2" r="3.1" fill="#f0c040" fill-opacity="1.0"/>
<circle cx="213.4" cy="236.6" r="3.1" fill="#0c0c8c" fill-opacity="1.0"/>
<circle cx="214.4" cy="224.7" r="3.1" fill="#f0d840" fill-opacity="1.0"/>
<circle cx="218.6" cy="228.4" r="3.1" fill="#f0d040" fill-opacity="1.0"/>
<circle cx="223.0" cy="219.8" r="3.1" fill="#f5e040" fill-opacity="1.0"/>
<circle cx="223.3" cy="232.7" r="3.1" fill="#d87060" fill-opacity="1.0"/>
<circle cx="221.6" cy="234.9" r="3.1" fill="#f0c040" fill-opacity="1.0"/>
<circle cx="219.9" cy="236.6" r="3.1" fill="#f0a040" fill-opacity="1.0"/>
</g><g stroke="#7b8fc6" stroke-width="1.3" stroke-opacity="0.55" fill="none">
<line x1="69.8" y1="211.0" x2="70.6" y2="225.2"/>
<line x1="69.8" y1="211.0" x2="88.9" y2="232.0"/>
<line x1="70.6" y1="225.2" x2="88.9" y2="232.0"/>
<line x1="70.6" y1="225.2" x2="74.0" y2="249.5"/>
<line x1="70.6" y1="225.2" x2="70.8" y2="261.5"/>
<line x1="88.9" y1="232.0" x2="101.2" y2="218.1"/>
<line x1="88.9" y1="232.0" x2="111.4" y2="241.5"/>
<line x1="88.9" y1="232.0" x2="74.0" y2="249.5"/>
<line x1="88.9" y1="232.0" x2="91.1" y2="256.5"/>
<line x1="101.2" y1="218.1" x2="132.4" y2="224.4"/>
<line x1="101.2" y1="218.1" x2="134.3" y2="234.3"/>
<line x1="101.2" y1="218.1" x2="111.4" y2="241.5"/>
<line x1="132.4" y1="224.4" x2="134.3" y2="234.3"/>
<line x1="132.4" y1="224.4" x2="150.3" y2="233.3"/>
<line x1="134.3" y1="234.3" x2="111.4" y2="241.5"/>
<line x1="134.3" y1="234.3" x2="139.5" y2="250.1"/>
<line x1="134.3" y1="234.3" x2="150.3" y2="233.3"/>
<line x1="111.4" y1="241.5" x2="91.1" y2="256.5"/>
<line x1="111.4" y1="241.5" x2="139.5" y2="250.1"/>
<line x1="111.4" y1="241.5" x2="111.9" y2="259.6"/>
<line x1="74.0" y1="249.5" x2="91.1" y2="256.5"/>
<line x1="74.0" y1="249.5" x2="70.8" y2="261.5"/>
<line x1="91.1" y1="256.5" x2="111.9" y2="259.6"/>
<line x1="91.1" y1="256.5" x2="70.8" y2="261.5"/>
<line x1="91.1" y1="256.5" x2="89.1" y2="276.0"/>
<line x1="91.1" y1="256.5" x2="107.1" y2="273.5"/>
<line x1="139.5" y1="250.1" x2="111.9" y2="259.6"/>
<line x1="139.5" y1="250.1" x2="135.9" y2="261.4"/>
<line x1="139.5" y1="250.1" x2="150.3" y2="233.3"/>
<line x1="139.5" y1="250.1" x2="157.4" y2="245.6"/>
<line x1="139.5" y1="250.1" x2="160.4" y2="259.0"/>
<line x1="111.9" y1="259.6" x2="135.9" y2="261.4"/>
<line x1="111.9" y1="259.6" x2="107.1" y2="273.5"/>
<line x1="70.8" y1="261.5" x2="89.1" y2="276.0"/>
<line x1="135.9" y1="261.4" x2="107.1" y2="273.5"/>
<line x1="135.9" y1="261.4" x2="139.5" y2="273.3"/>
<line x1="135.9" y1="261.4" x2="160.4" y2="259.0"/>
<line x1="89.1" y1="276.0" x2="107.1" y2="273.5"/>
<line x1="107.1" y1="273.5" x2="139.5" y2="273.3"/>
<line x1="107.1" y1="273.5" x2="131.3" y2="291.4"/>
<line x1="139.5" y1="273.3" x2="131.3" y2="291.4"/>
<line x1="139.5" y1="273.3" x2="160.4" y2="259.0"/>
<line x1="139.5" y1="273.3" x2="158.1" y2="277.8"/>
<line x1="131.3" y1="291.4" x2="158.1" y2="277.8"/>
<line x1="131.3" y1="291.4" x2="161.2" y2="290.2"/>
<line x1="150.3" y1="233.3" x2="162.0" y2="231.7"/>
<line x1="150.3" y1="233.3" x2="157.4" y2="245.6"/>
<line x1="162.0" y1="231.7" x2="182.4" y2="236.1"/>
<line x1="162.0" y1="231.7" x2="157.4" y2="245.6"/>
<line x1="162.0" y1="231.7" x2="164.2" y2="254.2"/>
<line x1="182.4" y1="236.1" x2="164.2" y2="254.2"/>
<line x1="182.4" y1="236.1" x2="176.7" y2="255.2"/>
<line x1="182.4" y1="236.1" x2="189.6" y2="250.4"/>
<line x1="157.4" y1="245.6" x2="164.2" y2="254.2"/>
<line x1="157.4" y1="245.6" x2="160.4" y2="259.0"/>
<line x1="164.2" y1="254.2" x2="160.4" y2="259.0"/>
<line x1="164.2" y1="254.2" x2="176.7" y2="255.2"/>
<line x1="164.2" y1="254.2" x2="170.7" y2="271.0"/>
<line x1="160.4" y1="259.0" x2="170.7" y2="271.0"/>
<line x1="160.4" y1="259.0" x2="158.1" y2="277.8"/>
<line x1="176.7" y1="255.2" x2="179.1" y2="259.8"/>
<line x1="176.7" y1="255.2" x2="189.6" y2="250.4"/>
<line x1="176.7" y1="255.2" x2="170.7" y2="271.0"/>
<line x1="179.1" y1="259.8" x2="189.6" y2="250.4"/>
<line x1="179.1" y1="259.8" x2="195.3" y2="254.2"/>
<line x1="179.1" y1="259.8" x2="198.8" y2="259.6"/>
<line x1="179.1" y1="259.8" x2="170.7" y2="271.0"/>
<line x1="179.1" y1="259.8" x2="198.8" y2="266.5"/>
<line x1="179.1" y1="259.8" x2="196.8" y2="274.8"/>
<line x1="189.6" y1="250.4" x2="195.3" y2="254.2"/>
<line x1="189.6" y1="250.4" x2="203.0" y2="245.9"/>
<line x1="195.3" y1="254.2" x2="198.8" y2="259.6"/>
<line x1="195.3" y1="254.2" x2="203.0" y2="245.9"/>
<line x1="195.3" y1="254.2" x2="208.4" y2="250.7"/>
<line x1="198.8" y1="259.6" x2="198.8" y2="266.5"/>
<line x1="198.8" y1="259.6" x2="208.4" y2="250.7"/>
<line x1="198.8" y1="259.6" x2="211.0" y2="251.2"/>
<line x1="170.7" y1="271.0" x2="196.8" y2="274.8"/>
<line x1="170.7" y1="271.0" x2="158.1" y2="277.8"/>
<line x1="170.7" y1="271.0" x2="166.7" y2="284.4"/>
<line x1="170.7" y1="271.0" x2="175.8" y2="286.9"/>
<line x1="170.7" y1="271.0" x2="192.9" y2="283.7"/>
<line x1="198.8" y1="266.5" x2="196.8" y2="274.8"/>
<line x1="196.8" y1="274.8" x2="192.9" y2="283.7"/>
<line x1="158.1" y1="277.8" x2="166.7" y2="284.4"/>
<line x1="158.1" y1="277.8" x2="161.2" y2="290.2"/>
<line x1="166.7" y1="284.4" x2="175.8" y2="286.9"/>
<line x1="166.7" y1="284.4" x2="161.2" y2="290.2"/>
<line x1="175.8" y1="286.9" x2="192.9" y2="283.7"/>
<line x1="175.8" y1="286.9" x2="161.2" y2="290.2"/>
<line x1="175.8" y1="286.9" x2="198.9" y2="299.4"/>
<line x1="192.9" y1="283.7" x2="198.9" y2="299.4"/>
<line x1="203.0" y1="245.9" x2="213.7" y2="243.9"/>
<line x1="203.0" y1="245.9" x2="208.4" y2="250.7"/>
<line x1="203.0" y1="245.9" x2="213.4" y2="236.6"/>
<line x1="213.7" y1="243.9" x2="208.4" y2="250.7"/>
<line x1="213.7" y1="243.9" x2="211.0" y2="251.2"/>
<line x1="213.7" y1="243.9" x2="213.4" y2="236.6"/>
<line x1="213.7" y1="243.9" x2="219.9" y2="236.6"/>
<line x1="208.4" y1="250.7" x2="211.0" y2="251.2"/>
<line x1="211.0" y1="251.2" x2="219.9" y2="236.6"/>
<line x1="213.4" y1="236.6" x2="214.4" y2="224.7"/>
<line x1="213.4" y1="236.6" x2="218.6" y2="228.4"/>
<line x1="213.4" y1="236.6" x2="219.9" y2="236.6"/>
<line x1="214.4" y1="224.7" x2="218.6" y2="228.4"/>
<line x1="218.6" y1="228.4" x2="223.0" y2="219.8"/>
<line x1="218.6" y1="228.4" x2="223.3" y2="232.7"/>
<line x1="218.6" y1="228.4" x2="221.6" y2="234.9"/>
<line x1="218.6" y1="228.4" x2="219.9" y2="236.6"/>
<line x1="223.3" y1="232.7" x2="221.6" y2="234.9"/>
<line x1="221.6" y1="234.9" x2="219.9" y2="236.6"/>
</g><g>
<circle cx="306.0" cy="211.0" r="3.1" fill="#f5e23a" fill-opacity="1.0"/>
<circle cx="306.8" cy="225.2" r="3.1" fill="#f5e23a" fill-opacity="1.0"/>
<circle cx="325.1" cy="232.0" r="3.1" fill="#f0e036" fill-opacity="1.0"/>
<circle cx="337.4" cy="218.1" r="3.1" fill="#e8e034" fill-opacity="1.0"/>
<circle cx="368.6" cy="224.4" r="3.1" fill="#dce036" fill-opacity="1.0"/>
<circle cx="370.5" cy="234.3" r="3.1" fill="#dce03a" fill-opacity="1.0"/>
<circle cx="347.6" cy="241.5" r="3.1" fill="#ece236" fill-opacity="1.0"/>
<circle cx="310.2" cy="249.5" r="3.1" fill="#f2e038" fill-opacity="1.0"/>
<circle cx="327.3" cy="256.5" r="3.1" fill="#eee238" fill-opacity="1.0"/>
<circle cx="375.7" cy="250.1" r="3.1" fill="#d8de3a" fill-opacity="1.0"/>
<circle cx="348.1" cy="259.6" r="3.1" fill="#ece436" fill-opacity="1.0"/>
<circle cx="307.0" cy="261.5" r="3.1" fill="#f5e23a" fill-opacity="1.0"/>
<circle cx="372.1" cy="261.4" r="3.1" fill="#e0e038" fill-opacity="1.0"/>
<circle cx="325.3" cy="276.0" r="3.1" fill="#f0e238" fill-opacity="1.0"/>
<circle cx="343.3" cy="273.5" r="3.1" fill="#e8e038" fill-opacity="1.0"/>
<circle cx="375.7" cy="273.3" r="3.1" fill="#d8de3a" fill-opacity="1.0"/>
<circle cx="367.5" cy="291.4" r="3.1" fill="#cce044" fill-opacity="1.0"/>
<circle cx="386.5" cy="233.3" r="3.1" fill="#c8dc40" fill-opacity="1.0"/>
<circle cx="398.2" cy="231.7" r="3.1" fill="#a8d454" fill-opacity="1.0"/>
<circle cx="418.6" cy="236.1" r="3.1" fill="#7cc868" fill-opacity="1.0"/>
<circle cx="393.6" cy="245.6" r="3.1" fill="#c0da44" fill-opacity="1.0"/>
<circle cx="400.4" cy="254.2" r="3.1" fill="#a0d258" fill-opacity="1.0"/>
<circle cx="396.6" cy="259.0" r="3.1" fill="#b8d848" fill-opacity="1.0"/>
<circle cx="412.9" cy="255.2" r="3.1" fill="#80c868" fill-opacity="1.0"/>
<circle cx="415.3" cy="259.8" r="3.1" fill="#7cc46c" fill-opacity="1.0"/>
<circle cx="425.8" cy="250.4" r="3.1" fill="#64b87c" fill-opacity="1.0"/>
<circle cx="431.5" cy="254.2" r="3.1" fill="#58b080" fill-opacity="1.0"/>
<circle cx="435.0" cy="259.6" r="3.1" fill="#6ebc76" fill-opacity="1.0"/>
<circle cx="406.9" cy="271.0" r="3.1" fill="#90cc60" fill-opacity="1.0"/>
<circle cx="435.0" cy="266.5" r="3.1" fill="#80c66c" fill-opacity="1.0"/>
<circle cx="433.0" cy="274.8" r="3.1" fill="#78c470" fill-opacity="1.0"/>
<circle cx="394.3" cy="277.8" r="3.1" fill="#c4dc44" fill-opacity="1.0"/>
<circle cx="402.9" cy="284.4" r="3.1" fill="#a0d258" fill-opacity="1.0"/>
<circle cx="412.0" cy="286.9" r="3.1" fill="#8cca64" fill-opacity="1.0"/>
<circle cx="429.1" cy="283.7" r="3.1" fill="#80c66c" fill-opacity="1.0"/>
<circle cx="397.4" cy="290.2" r="3.1" fill="#bcda48" fill-opacity="1.0"/>
<circle cx="435.1" cy="299.4" r="3.1" fill="#78c46c" fill-opacity="1.0"/>
<circle cx="439.2" cy="245.9" r="3.1" fill="#3e8c8c" fill-opacity="1.0"/>
<circle cx="449.9" cy="243.9" r="3.1" fill="#3e6aa0" fill-opacity="1.0"/>
<circle cx="444.6" cy="250.7" r="3.1" fill="#4a9c8c" fill-opacity="1.0"/>
<circle cx="447.2" cy="251.2" r="3.1" fill="#4a8a94" fill-opacity="1.0"/>
<circle cx="449.6" cy="236.6" r="3.1" fill="#3e4a8c" fill-opacity="1.0"/>
<circle cx="450.6" cy="224.7" r="3.1" fill="#442a7a" fill-opacity="1.0"/>
<circle cx="454.8" cy="228.4" r="3.1" fill="#46207a" fill-opacity="1.0"/>
<circle cx="459.2" cy="219.8" r="3.1" fill="#3c0a5c" fill-opacity="1.0"/>
<circle cx="459.5" cy="232.7" r="3.1" fill="#4a2a80" fill-opacity="1.0"/>
<circle cx="457.8" cy="234.9" r="3.1" fill="#4a3a88" fill-opacity="1.0"/>
<circle cx="456.1" cy="236.6" r="3.1" fill="#48488c" fill-opacity="1.0"/>
</g><g stroke="#7b8fc6" stroke-width="1.3" stroke-opacity="0.55" fill="none">
<line x1="306.0" y1="211.0" x2="306.8" y2="225.2"/>
<line x1="306.0" y1="211.0" x2="325.1" y2="232.0"/>
<line x1="306.8" y1="225.2" x2="325.1" y2="232.0"/>
<line x1="306.8" y1="225.2" x2="310.2" y2="249.5"/>
<line x1="306.8" y1="225.2" x2="307.0" y2="261.5"/>
<line x1="325.1" y1="232.0" x2="337.4" y2="218.1"/>
<line x1="325.1" y1="232.0" x2="347.6" y2="241.5"/>
<line x1="325.1" y1="232.0" x2="310.2" y2="249.5"/>
<line x1="325.1" y1="232.0" x2="327.3" y2="256.5"/>
<line x1="337.4" y1="218.1" x2="368.6" y2="224.4"/>
<line x1="337.4" y1="218.1" x2="370.5" y2="234.3"/>
<line x1="337.4" y1="218.1" x2="347.6" y2="241.5"/>
<line x1="368.6" y1="224.4" x2="370.5" y2="234.3"/>
<line x1="368.6" y1="224.4" x2="386.5" y2="233.3"/>
<line x1="370.5" y1="234.3" x2="347.6" y2="241.5"/>
<line x1="370.5" y1="234.3" x2="375.7" y2="250.1"/>
<line x1="370.5" y1="234.3" x2="386.5" y2="233.3"/>
<line x1="347.6" y1="241.5" x2="327.3" y2="256.5"/>
<line x1="347.6" y1="241.5" x2="375.7" y2="250.1"/>
<line x1="347.6" y1="241.5" x2="348.1" y2="259.6"/>
<line x1="310.2" y1="249.5" x2="327.3" y2="256.5"/>
<line x1="310.2" y1="249.5" x2="307.0" y2="261.5"/>
<line x1="327.3" y1="256.5" x2="348.1" y2="259.6"/>
<line x1="327.3" y1="256.5" x2="307.0" y2="261.5"/>
<line x1="327.3" y1="256.5" x2="325.3" y2="276.0"/>
<line x1="327.3" y1="256.5" x2="343.3" y2="273.5"/>
<line x1="375.7" y1="250.1" x2="348.1" y2="259.6"/>
<line x1="375.7" y1="250.1" x2="372.1" y2="261.4"/>
<line x1="375.7" y1="250.1" x2="386.5" y2="233.3"/>
<line x1="375.7" y1="250.1" x2="393.6" y2="245.6"/>
<line x1="375.7" y1="250.1" x2="396.6" y2="259.0"/>
<line x1="348.1" y1="259.6" x2="372.1" y2="261.4"/>
<line x1="348.1" y1="259.6" x2="343.3" y2="273.5"/>
<line x1="307.0" y1="261.5" x2="325.3" y2="276.0"/>
<line x1="372.1" y1="261.4" x2="343.3" y2="273.5"/>
<line x1="372.1" y1="261.4" x2="375.7" y2="273.3"/>
<line x1="372.1" y1="261.4" x2="396.6" y2="259.0"/>
<line x1="325.3" y1="276.0" x2="343.3" y2="273.5"/>
<line x1="343.3" y1="273.5" x2="375.7" y2="273.3"/>
<line x1="343.3" y1="273.5" x2="367.5" y2="291.4"/>
<line x1="375.7" y1="273.3" x2="367.5" y2="291.4"/>
<line x1="375.7" y1="273.3" x2="396.6" y2="259.0"/>
<line x1="375.7" y1="273.3" x2="394.3" y2="277.8"/>
<line x1="367.5" y1="291.4" x2="394.3" y2="277.8"/>
<line x1="367.5" y1="291.4" x2="397.4" y2="290.2"/>
<line x1="386.5" y1="233.3" x2="398.2" y2="231.7"/>
<line x1="386.5" y1="233.3" x2="393.6" y2="245.6"/>
<line x1="398.2" y1="231.7" x2="418.6" y2="236.1"/>
<line x1="398.2" y1="231.7" x2="393.6" y2="245.6"/>
<line x1="398.2" y1="231.7" x2="400.4" y2="254.2"/>
<line x1="418.6" y1="236.1" x2="400.4" y2="254.2"/>
<line x1="418.6" y1="236.1" x2="412.9" y2="255.2"/>
<line x1="418.6" y1="236.1" x2="425.8" y2="250.4"/>
<line x1="393.6" y1="245.6" x2="400.4" y2="254.2"/>
<line x1="393.6" y1="245.6" x2="396.6" y2="259.0"/>
<line x1="400.4" y1="254.2" x2="396.6" y2="259.0"/>
<line x1="400.4" y1="254.2" x2="412.9" y2="255.2"/>
<line x1="400.4" y1="254.2" x2="406.9" y2="271.0"/>
<line x1="396.6" y1="259.0" x2="406.9" y2="271.0"/>
<line x1="396.6" y1="259.0" x2="394.3" y2="277.8"/>
<line x1="412.9" y1="255.2" x2="415.3" y2="259.8"/>
<line x1="412.9" y1="255.2" x2="425.8" y2="250.4"/>
<line x1="412.9" y1="255.2" x2="406.9" y2="271.0"/>
<line x1="415.3" y1="259.8" x2="425.8" y2="250.4"/>
<line x1="415.3" y1="259.8" x2="431.5" y2="254.2"/>
<line x1="415.3" y1="259.8" x2="435.0" y2="259.6"/>
<line x1="415.3" y1="259.8" x2="406.9" y2="271.0"/>
<line x1="415.3" y1="259.8" x2="435.0" y2="266.5"/>
<line x1="415.3" y1="259.8" x2="433.0" y2="274.8"/>
<line x1="425.8" y1="250.4" x2="431.5" y2="254.2"/>
<line x1="425.8" y1="250.4" x2="439.2" y2="245.9"/>
<line x1="431.5" y1="254.2" x2="435.0" y2="259.6"/>
<line x1="431.5" y1="254.2" x2="439.2" y2="245.9"/>
<line x1="431.5" y1="254.2" x2="444.6" y2="250.7"/>
<line x1="435.0" y1="259.6" x2="435.0" y2="266.5"/>
<line x1="435.0" y1="259.6" x2="444.6" y2="250.7"/>
<line x1="435.0" y1="259.6" x2="447.2" y2="251.2"/>
<line x1="406.9" y1="271.0" x2="433.0" y2="274.8"/>
<line x1="406.9" y1="271.0" x2="394.3" y2="277.8"/>
<line x1="406.9" y1="271.0" x2="402.9" y2="284.4"/>
<line x1="406.9" y1="271.0" x2="412.0" y2="286.9"/>
<line x1="406.9" y1="271.0" x2="429.1" y2="283.7"/>
<line x1="435.0" y1="266.5" x2="433.0" y2="274.8"/>
<line x1="433.0" y1="274.8" x2="429.1" y2="283.7"/>
<line x1="394.3" y1="277.8" x2="402.9" y2="284.4"/>
<line x1="394.3" y1="277.8" x2="397.4" y2="290.2"/>
<line x1="402.9" y1="284.4" x2="412.0" y2="286.9"/>
<line x1="402.9" y1="284.4" x2="397.4" y2="290.2"/>
<line x1="412.0" y1="286.9" x2="429.1" y2="283.7"/>
<line x1="412.0" y1="286.9" x2="397.4" y2="290.2"/>
<line x1="412.0" y1="286.9" x2="435.1" y2="299.4"/>
<line x1="429.1" y1="283.7" x2="435.1" y2="299.4"/>
<line x1="439.2" y1="245.9" x2="449.9" y2="243.9"/>
<line x1="439.2" y1="245.9" x2="444.6" y2="250.7"/>
<line x1="439.2" y1="245.9" x2="449.6" y2="236.6"/>
<line x1="449.9" y1="243.9" x2="444.6" y2="250.7"/>
<line x1="449.9" y1="243.9" x2="447.2" y2="251.2"/>
<line x1="449.9" y1="243.9" x2="449.6" y2="236.6"/>
<line x1="449.9" y1="243.9" x2="456.1" y2="236.6"/>
<line x1="444.6" y1="250.7" x2="447.2" y2="251.2"/>
<line x1="447.2" y1="251.2" x2="456.1" y2="236.6"/>
<line x1="449.6" y1="236.6" x2="450.6" y2="224.7"/>
<line x1="449.6" y1="236.6" x2="454.8" y2="228.4"/>
<line x1="449.6" y1="236.6" x2="456.1" y2="236.6"/>
<line x1="450.6" y1="224.7" x2="454.8" y2="228.4"/>
<line x1="454.8" y1="228.4" x2="459.2" y2="219.8"/>
<line x1="454.8" y1="228.4" x2="459.5" y2="232.7"/>
<line x1="454.8" y1="228.4" x2="457.8" y2="234.9"/>
<line x1="454.8" y1="228.4" x2="456.1" y2="236.6"/>
<line x1="459.5" y1="232.7" x2="457.8" y2="234.9"/>
<line x1="457.8" y1="234.9" x2="456.1" y2="236.6"/>
</g><g>
<circle cx="542.2" cy="211.0" r="3.1" fill="#4a80c0" fill-opacity="1.0"/>
<circle cx="543.0" cy="225.2" r="3.1" fill="#3a6cb8" fill-opacity="1.0"/>
<circle cx="561.3" cy="232.0" r="3.1" fill="#2a4c98" fill-opacity="1.0"/>
<circle cx="573.6" cy="218.1" r="3.1" fill="#1e3670" fill-opacity="1.0"/>
<circle cx="604.8" cy="224.4" r="3.1" fill="#22448a" fill-opacity="1.0"/>
<circle cx="606.7" cy="234.3" r="3.1" fill="#2e58a8" fill-opacity="1.0"/>
<circle cx="583.8" cy="241.5" r="3.1" fill="#22407e" fill-opacity="1.0"/>
<circle cx="546.4" cy="249.5" r="3.1" fill="#4a80c0" fill-opacity="1.0"/>
<circle cx="563.5" cy="256.5" r="3.1" fill="#5a90cc" fill-opacity="1.0"/>
<circle cx="611.9" cy="250.1" r="3.1" fill="#3a6cb4" fill-opacity="1.0"/>
<circle cx="584.3" cy="259.6" r="3.1" fill="#3d70b8" fill-opacity="1.0"/>
<circle cx="543.2" cy="261.5" r="3.1" fill="#f4f8fe" fill-opacity="1.0"/>
<circle cx="608.3" cy="261.4" r="3.1" fill="#3468b0" fill-opacity="1.0"/>
<circle cx="561.5" cy="276.0" r="3.1" fill="#b0cce4" fill-opacity="1.0"/>
<circle cx="579.5" cy="273.5" r="3.1" fill="#3060a8" fill-opacity="1.0"/>
<circle cx="611.9" cy="273.3" r="3.1" fill="#3a6cb8" fill-opacity="1.0"/>
<circle cx="603.7" cy="291.4" r="3.1" fill="#d4e2f2" fill-opacity="1.0"/>
<circle cx="622.7" cy="233.3" r="3.1" fill="#5a92cc" fill-opacity="1.0"/>
<circle cx="634.4" cy="231.7" r="3.1" fill="#6aa0d4" fill-opacity="1.0"/>
<circle cx="654.8" cy="236.1" r="3.1" fill="#4a80c0" fill-opacity="1.0"/>
<circle cx="629.8" cy="245.6" r="3.1" fill="#4a80c0" fill-opacity="1.0"/>
<circle cx="636.6" cy="254.2" r="3.1" fill="#74a8d8" fill-opacity="1.0"/>
<circle cx="632.8" cy="259.0" r="3.1" fill="#4a80c0" fill-opacity="1.0"/>
<circle cx="649.1" cy="255.2" r="3.1" fill="#5a92cc" fill-opacity="1.0"/>
<circle cx="651.5" cy="259.8" r="3.1" fill="#3a6cb8" fill-opacity="1.0"/>
<circle cx="662.0" cy="250.4" r="3.1" fill="#4a80c0" fill-opacity="1.0"/>
<circle cx="667.7" cy="254.2" r="3.1" fill="#22448a" fill-opacity="1.0"/>
<circle cx="671.2" cy="259.6" r="3.1" fill="#6aa0d4" fill-opacity="1.0"/>
<circle cx="643.1" cy="271.0" r="3.1" fill="#5a92cc" fill-opacity="1.0"/>
<circle cx="671.2" cy="266.5" r="3.1" fill="#a8c8e4" fill-opacity="1.0"/>
<circle cx="669.2" cy="274.8" r="3.1" fill="#6aa0d4" fill-opacity="1.0"/>
<circle cx="630.5" cy="277.8" r="3.1" fill="#5a92cc" fill-opacity="1.0"/>
<circle cx="639.1" cy="284.4" r="3.1" fill="#4a80c0" fill-opacity="1.0"/>
<circle cx="648.2" cy="286.9" r="3.1" fill="#74a8d8" fill-opacity="1.0"/>
<circle cx="665.3" cy="283.7" r="3.1" fill="#74a8d8" fill-opacity="1.0"/>
<circle cx="633.6" cy="290.2" r="3.1" fill="#5a92cc" fill-opacity="1.0"/>
<circle cx="671.3" cy="299.4" r="3.1" fill="#d0e0f0" fill-opacity="1.0"/>
<circle cx="675.4" cy="245.9" r="3.1" fill="#5a92cc" fill-opacity="1.0"/>
<circle cx="686.1" cy="243.9" r="3.1" fill="#5a92cc" fill-opacity="1.0"/>
<circle cx="680.8" cy="250.7" r="3.1" fill="#5a92cc" fill-opacity="1.0"/>
<circle cx="683.4" cy="251.2" r="3.1" fill="#4a80c0" fill-opacity="1.0"/>
<circle cx="685.8" cy="236.6" r="3.1" fill="#6ea6d6" fill-opacity="1.0"/>
<circle cx="686.8" cy="224.7" r="3.1" fill="#1e3670" fill-opacity="1.0"/>
<circle cx="691.0" cy="228.4" r="3.1" fill="#2e58a8" fill-opacity="1.0"/>
<circle cx="695.4" cy="219.8" r="3.1" fill="#2a4c98" fill-opacity="1.0"/>
<circle cx="695.7" cy="232.7" r="3.1" fill="#5a92cc" fill-opacity="1.0"/>
<circle cx="694.0" cy="234.9" r="3.1" fill="#5a92cc" fill-opacity="1.0"/>
<circle cx="692.3" cy="236.6" r="3.1" fill="#5a92cc" fill-opacity="1.0"/>
</g><g stroke="#7b8fc6" stroke-width="1.3" stroke-opacity="0.55" fill="none">
<line x1="542.2" y1="211.0" x2="543.0" y2="225.2"/>
<line x1="542.2" y1="211.0" x2="561.3" y2="232.0"/>
<line x1="543.0" y1="225.2" x2="561.3" y2="232.0"/>
<line x1="543.0" y1="225.2" x2="546.4" y2="249.5"/>
<line x1="543.0" y1="225.2" x2="543.2" y2="261.5"/>
<line x1="561.3" y1="232.0" x2="573.6" y2="218.1"/>
<line x1="561.3" y1="232.0" x2="583.8" y2="241.5"/>
<line x1="561.3" y1="232.0" x2="546.4" y2="249.5"/>
<line x1="561.3" y1="232.0" x2="563.5" y2="256.5"/>
<line x1="573.6" y1="218.1" x2="604.8" y2="224.4"/>
<line x1="573.6" y1="218.1" x2="606.7" y2="234.3"/>
<line x1="573.6" y1="218.1" x2="583.8" y2="241.5"/>
<line x1="604.8" y1="224.4" x2="606.7" y2="234.3"/>
<line x1="604.8" y1="224.4" x2="622.7" y2="233.3"/>
<line x1="606.7" y1="234.3" x2="583.8" y2="241.5"/>
<line x1="606.7" y1="234.3" x2="611.9" y2="250.1"/>
<line x1="606.7" y1="234.3" x2="622.7" y2="233.3"/>
<line x1="583.8" y1="241.5" x2="563.5" y2="256.5"/>
<line x1="583.8" y1="241.5" x2="611.9" y2="250.1"/>
<line x1="583.8" y1="241.5" x2="584.3" y2="259.6"/>
<line x1="546.4" y1="249.5" x2="563.5" y2="256.5"/>
<line x1="546.4" y1="249.5" x2="543.2" y2="261.5"/>
<line x1="563.5" y1="256.5" x2="584.3" y2="259.6"/>
<line x1="563.5" y1="256.5" x2="543.2" y2="261.5"/>
<line x1="563.5" y1="256.5" x2="561.5" y2="276.0"/>
<line x1="563.5" y1="256.5" x2="579.5" y2="273.5"/>
<line x1="611.9" y1="250.1" x2="584.3" y2="259.6"/>
<line x1="611.9" y1="250.1" x2="608.3" y2="261.4"/>
<line x1="611.9" y1="250.1" x2="622.7" y2="233.3"/>
<line x1="611.9" y1="250.1" x2="629.8" y2="245.6"/>
<line x1="611.9" y1="250.1" x2="632.8" y2="259.0"/>
<line x1="584.3" y1="259.6" x2="608.3" y2="261.4"/>
<line x1="584.3" y1="259.6" x2="579.5" y2="273.5"/>
<line x1="543.2" y1="261.5" x2="561.5" y2="276.0"/>
<line x1="608.3" y1="261.4" x2="579.5" y2="273.5"/>
<line x1="608.3" y1="261.4" x2="611.9" y2="273.3"/>
<line x1="608.3" y1="261.4" x2="632.8" y2="259.0"/>
<line x1="561.5" y1="276.0" x2="579.5" y2="273.5"/>
<line x1="579.5" y1="273.5" x2="611.9" y2="273.3"/>
<line x1="579.5" y1="273.5" x2="603.7" y2="291.4"/>
<line x1="611.9" y1="273.3" x2="603.7" y2="291.4"/>
<line x1="611.9" y1="273.3" x2="632.8" y2="259.0"/>
<line x1="611.9" y1="273.3" x2="630.5" y2="277.8"/>
<line x1="603.7" y1="291.4" x2="630.5" y2="277.8"/>
<line x1="603.7" y1="291.4" x2="633.6" y2="290.2"/>
<line x1="622.7" y1="233.3" x2="634.4" y2="231.7"/>
<line x1="622.7" y1="233.3" x2="629.8" y2="245.6"/>
<line x1="634.4" y1="231.7" x2="654.8" y2="236.1"/>
<line x1="634.4" y1="231.7" x2="629.8" y2="245.6"/>
<line x1="634.4" y1="231.7" x2="636.6" y2="254.2"/>
<line x1="654.8" y1="236.1" x2="636.6" y2="254.2"/>
<line x1="654.8" y1="236.1" x2="649.1" y2="255.2"/>
<line x1="654.8" y1="236.1" x2="662.0" y2="250.4"/>
<line x1="629.8" y1="245.6" x2="636.6" y2="254.2"/>
<line x1="629.8" y1="245.6" x2="632.8" y2="259.0"/>
<line x1="636.6" y1="254.2" x2="632.8" y2="259.0"/>
<line x1="636.6" y1="254.2" x2="649.1" y2="255.2"/>
<line x1="636.6" y1="254.2" x2="643.1" y2="271.0"/>
<line x1="632.8" y1="259.0" x2="643.1" y2="271.0"/>
<line x1="632.8" y1="259.0" x2="630.5" y2="277.8"/>
<line x1="649.1" y1="255.2" x2="651.5" y2="259.8"/>
<line x1="649.1" y1="255.2" x2="662.0" y2="250.4"/>
<line x1="649.1" y1="255.2" x2="643.1" y2="271.0"/>
<line x1="651.5" y1="259.8" x2="662.0" y2="250.4"/>
<line x1="651.5" y1="259.8" x2="667.7" y2="254.2"/>
<line x1="651.5" y1="259.8" x2="671.2" y2="259.6"/>
<line x1="651.5" y1="259.8" x2="643.1" y2="271.0"/>
<line x1="651.5" y1="259.8" x2="671.2" y2="266.5"/>
<line x1="651.5" y1="259.8" x2="669.2" y2="274.8"/>
<line x1="662.0" y1="250.4" x2="667.7" y2="254.2"/>
<line x1="662.0" y1="250.4" x2="675.4" y2="245.9"/>
<line x1="667.7" y1="254.2" x2="671.2" y2="259.6"/>
<line x1="667.7" y1="254.2" x2="675.4" y2="245.9"/>
<line x1="667.7" y1="254.2" x2="680.8" y2="250.7"/>
<line x1="671.2" y1="259.6" x2="671.2" y2="266.5"/>
<line x1="671.2" y1="259.6" x2="680.8" y2="250.7"/>
<line x1="671.2" y1="259.6" x2="683.4" y2="251.2"/>
<line x1="643.1" y1="271.0" x2="669.2" y2="274.8"/>
<line x1="643.1" y1="271.0" x2="630.5" y2="277.8"/>
<line x1="643.1" y1="271.0" x2="639.1" y2="284.4"/>
<line x1="643.1" y1="271.0" x2="648.2" y2="286.9"/>
<line x1="643.1" y1="271.0" x2="665.3" y2="283.7"/>
<line x1="671.2" y1="266.5" x2="669.2" y2="274.8"/>
<line x1="669.2" y1="274.8" x2="665.3" y2="283.7"/>
<line x1="630.5" y1="277.8" x2="639.1" y2="284.4"/>
<line x1="630.5" y1="277.8" x2="633.6" y2="290.2"/>
<line x1="639.1" y1="284.4" x2="648.2" y2="286.9"/>
<line x1="639.1" y1="284.4" x2="633.6" y2="290.2"/>
<line x1="648.2" y1="286.9" x2="665.3" y2="283.7"/>
<line x1="648.2" y1="286.9" x2="633.6" y2="290.2"/>
<line x1="648.2" y1="286.9" x2="671.3" y2="299.4"/>
<line x1="665.3" y1="283.7" x2="671.3" y2="299.4"/>
<line x1="675.4" y1="245.9" x2="686.1" y2="243.9"/>
<line x1="675.4" y1="245.9" x2="680.8" y2="250.7"/>
<line x1="675.4" y1="245.9" x2="685.8" y2="236.6"/>
<line x1="686.1" y1="243.9" x2="680.8" y2="250.7"/>
<line x1="686.1" y1="243.9" x2="683.4" y2="251.2"/>
<line x1="686.1" y1="243.9" x2="685.8" y2="236.6"/>
<line x1="686.1" y1="243.9" x2="692.3" y2="236.6"/>
<line x1="680.8" y1="250.7" x2="683.4" y2="251.2"/>
<line x1="683.4" y1="251.2" x2="692.3" y2="236.6"/>
<line x1="685.8" y1="236.6" x2="686.8" y2="224.7"/>
<line x1="685.8" y1="236.6" x2="691.0" y2="228.4"/>
<line x1="685.8" y1="236.6" x2="692.3" y2="236.6"/>
<line x1="686.8" y1="224.7" x2="691.0" y2="228.4"/>
<line x1="691.0" y1="228.4" x2="695.4" y2="219.8"/>
<line x1="691.0" y1="228.4" x2="695.7" y2="232.7"/>
<line x1="691.0" y1="228.4" x2="694.0" y2="234.9"/>
<line x1="691.0" y1="228.4" x2="692.3" y2="236.6"/>
<line x1="695.7" y1="232.7" x2="694.0" y2="234.9"/>
<line x1="694.0" y1="234.9" x2="692.3" y2="236.6"/>
</g><polygon points="246.1,120.44999999999999 264.9,120.44999999999999 264.9,114.69999999999999 274.4,124.6 264.9,134.5 264.9,128.75 246.1,128.75" fill="#7f7f7f"/><polygon points="482.0,120.44999999999999 500.8,120.44999999999999 500.8,114.69999999999999 510.8,124.6 500.8,134.5 500.8,128.75 482.0,128.75" fill="#7f7f7f"/><polygon points="246.1,253.35 264.9,253.35 264.9,247.6 274.4,257.5 264.9,267.4 264.9,261.65 246.1,261.65" fill="#7f7f7f"/><polygon points="482.0,253.35 500.8,253.35 500.8,247.6 510.8,257.5 500.8,267.4 500.8,261.65 482.0,261.65" fill="#7f7f7f"/><polygon points="608,304.6 616.2,304.6 616.2,323.5 622.4,323.5 612.1,332.7 601.8,323.5 608,323.5" fill="#7f7f7f"/><text x="61.5" y="24.2" font-size="22" font-weight="bold" font-style="normal" fill="#000" textLength="55.00" lengthAdjust="spacingAndGlyphs" stroke="#fff" stroke-width="0.1">Prior</text><text x="124.5" y="24.2" font-size="22" font-weight="bold" font-style="normal" fill="#000" textLength="64.10" lengthAdjust="spacingAndGlyphs" stroke="#fff" stroke-width="0.1">model</text><text x="318.3" y="24.6" font-size="22" font-weight="bold" font-style="normal" fill="#000" textLength="115.50" lengthAdjust="spacingAndGlyphs" stroke="#fff" stroke-width="0.1">Covariance</text><text x="559.2" y="24.6" font-size="22" font-weight="bold" font-style="normal" fill="#000" textLength="34.80" lengthAdjust="spacingAndGlyphs" stroke="#fff" stroke-width="0.1">GP</text><text x="601.8" y="24.6" font-size="22" font-weight="bold" font-style="normal" fill="#000" textLength="64.20" lengthAdjust="spacingAndGlyphs" stroke="#fff" stroke-width="0.1">model</text><text transform="translate(26.7,161.2) rotate(-90)" font-size="22" font-weight="bold" fill="#000" stroke="#fff" stroke-width="0.1" textLength="72.6" lengthAdjust="spacingAndGlyphs">Spatial</text><text transform="translate(26.7,290.8) rotate(-90)" font-size="22" font-weight="bold" fill="#000" stroke="#fff" stroke-width="0.1" textLength="67.0" lengthAdjust="spacingAndGlyphs">Graph</text><text x="47.9" y="48.6" font-size="12.5" font-weight="normal" font-style="normal" fill="#000" textLength="9.60" lengthAdjust="spacingAndGlyphs" stroke="#000" stroke-width="0.12">&#8706;</text><text x="57.5" y="48.6" font-size="12.5" font-weight="normal" font-style="italic" fill="#000" textLength="9.00" lengthAdjust="spacingAndGlyphs" stroke="#000" stroke-width="0.12">u</text><rect x="47.5" y="50.6" width="19.4" height="0.85" fill="#000"/><text x="49.5" y="63.5" font-size="12.5" font-weight="normal" font-style="normal" fill="#000" textLength="9.00" lengthAdjust="spacingAndGlyphs" stroke="#000" stroke-width="0.12">&#8706;</text><text x="58.5" y="63.5" font-size="12.5" font-weight="normal" font-style="italic" fill="#000" textLength="6.60" lengthAdjust="spacingAndGlyphs" stroke="#000" stroke-width="0.12">t</text><rect x="80.7" y="48.8" width="14.9" height="1.0" fill="#000"/><rect x="80.7" y="53.6" width="14.9" height="1.0" fill="#000"/><text x="108.2" y="56.75" font-size="21.5" font-weight="normal" font-style="normal" fill="#000" textLength="15.70" lengthAdjust="spacingAndGlyphs" stroke="#000" stroke-width="0.12">&#916;</text><text x="125.0" y="56.75" font-size="21.5" font-weight="normal" font-style="italic" fill="#000" textLength="11.40" lengthAdjust="spacingAndGlyphs" stroke="#000" stroke-width="0.12">u</text><rect x="144.2" y="51.2" width="14.3" height="1.0" fill="#000"/><rect x="150.85" y="44.5" width="1.0" height="14.2" fill="#000"/><text x="166.6" y="56.75" font-size="21.5" font-weight="normal" font-style="normal" fill="#000" textLength="11.60" lengthAdjust="spacingAndGlyphs" stroke="#000" stroke-width="0.12">d</text><text x="178.2" y="56.75" font-size="21.5" font-weight="normal" font-style="italic" fill="#000" textLength="21.70" lengthAdjust="spacingAndGlyphs" stroke="#000" stroke-width="0.12">W</text><text x="198.5" y="59.4" font-size="15" font-weight="normal" font-style="italic" fill="#000" textLength="4.80" lengthAdjust="spacingAndGlyphs" stroke="#000" stroke-width="0.12">t</text><text x="37.5" y="195.2" font-size="13.5" font-weight="normal" font-style="normal" fill="#000" textLength="9.00" lengthAdjust="spacingAndGlyphs" stroke="#000" stroke-width="0.12">d</text><text x="46.5" y="195.2" font-size="13.5" font-weight="bold" font-style="italic" fill="#000" textLength="10.60" lengthAdjust="spacingAndGlyphs" stroke="#000" stroke-width="0.12">u</text><rect x="37.5" y="197.9" width="20.3" height="0.85" fill="#000"/><text x="40.2" y="210.5" font-size="13.5" font-weight="normal" font-style="normal" fill="#000" textLength="9.30" lengthAdjust="spacingAndGlyphs" stroke="#000" stroke-width="0.12">d</text><text x="49.5" y="210.5" font-size="13.5" font-weight="normal" font-style="italic" fill="#000" textLength="5.60" lengthAdjust="spacingAndGlyphs" stroke="#000" stroke-width="0.12">t</text><rect x="70.7" y="196.9" width="14.3" height="1.0" fill="#000"/><rect x="70.7" y="201.2" width="14.3" height="1.0" fill="#000"/><rect x="97.2" y="198.9" width="12.2" height="1.0" fill="#000"/><text x="112.8" y="204.7" font-size="21.5" font-weight="bold" font-style="italic" fill="#000" textLength="13.50" lengthAdjust="spacingAndGlyphs" stroke="#000" stroke-width="0.12">L</text><text x="133.1" y="204.7" font-size="21.5" font-weight="bold" font-style="italic" fill="#000" textLength="10.90" lengthAdjust="spacingAndGlyphs" stroke="#000" stroke-width="0.12">u</text><rect x="152.1" y="198.9" width="13.6" height="1.0" fill="#000"/><rect x="158.4" y="192.9" width="1.0" height="13.6" fill="#000"/><text x="173.8" y="204.7" font-size="21.5" font-weight="normal" font-style="normal" fill="#000" textLength="10.90" lengthAdjust="spacingAndGlyphs" stroke="#000" stroke-width="0.12">d</text><text x="184.7" y="204.7" font-size="21.5" font-weight="bold" font-style="italic" fill="#000" textLength="25.10" lengthAdjust="spacingAndGlyphs" stroke="#000" stroke-width="0.12">W</text><text x="208.4" y="207.8" font-size="15" font-weight="normal" font-style="italic" fill="#000" textLength="4.80" lengthAdjust="spacingAndGlyphs" stroke="#000" stroke-width="0.12">t</text><text x="342.1" y="57.8" font-size="21.5" font-weight="normal" font-style="italic" fill="#000" textLength="10.30" lengthAdjust="spacingAndGlyphs" stroke="#000" stroke-width="0.12">k</text><text x="352.9" y="57.8" font-size="21.5" font-weight="normal" font-style="normal" fill="#000" textLength="6.00" lengthAdjust="spacingAndGlyphs" stroke="#000" stroke-width="0.12">(</text><text x="361.0" y="57.8" font-size="21.5" font-weight="bold" font-style="italic" fill="#000" textLength="12.50" lengthAdjust="spacingAndGlyphs" stroke="#000" stroke-width="0.12">x</text><text x="374.6" y="57.8" font-size="21.5" font-weight="normal" font-style="normal" fill="#000" textLength="3.80" lengthAdjust="spacingAndGlyphs" stroke="#000" stroke-width="0.12">,</text><text x="383.3" y="57.8" font-size="21.5" font-weight="bold" font-style="italic" fill="#000" textLength="12.00" lengthAdjust="spacingAndGlyphs" stroke="#000" stroke-width="0.12">x</text><text x="395.3" y="57.8" font-size="21.5" font-weight="normal" font-style="normal" fill="#000" textLength="3.80" lengthAdjust="spacingAndGlyphs" stroke="#000" stroke-width="0.12">&#8242;</text><text x="402.3" y="57.8" font-size="21.5" font-weight="normal" font-style="normal" fill="#000" textLength="6.50" lengthAdjust="spacingAndGlyphs" stroke="#000" stroke-width="0.12">)</text><path d="M533.6,47.6 C535.5,46.2 536.6,45.0 537.8,43.7 C536.0,43.2 533.6,43.0 531.5,43.8 C528.6,45.0 526.7,48.0 526.3,51.5 C526.0,54.2 527.4,56.0 529.6,56.0 C532.2,56.0 534.4,53.6 536.7,50.3 C536.2,53.0 535.2,56.2 533.4,58.2 C531.8,59.6 529.6,59.4 526.8,58.6" fill="none" stroke="#000" stroke-width="1.25" stroke-linecap="round" stroke-linejoin="round"/><path d="M539.4,47.8 C540.6,45.6 542.2,44.6 544.5,44.4 L551.0,44.2 C553.6,44.3 554.6,45.8 554.0,47.8 C553.2,50.6 550.6,52.4 547.6,52.9 L545.0,53.2 M546.6,44.9 C545.8,49.5 544.2,54.5 541.8,58.7" fill="none" stroke="#000" stroke-width="1.25" stroke-linecap="round" stroke-linejoin="round"/><text x="555.4" y="57.8" font-size="21.5" font-weight="normal" font-style="normal" fill="#000" textLength="6.70" lengthAdjust="spacingAndGlyphs" stroke="#000" stroke-width="0.12">(</text><text x="562.7" y="57.8" font-size="21.5" font-weight="normal" font-style="italic" fill="#000" textLength="19.00" lengthAdjust="spacingAndGlyphs" stroke="#000" stroke-width="0.12">m</text><text x="582.9" y="57.8" font-size="21.5" font-weight="normal" font-style="normal" fill="#000" textLength="6.10" lengthAdjust="spacingAndGlyphs" stroke="#000" stroke-width="0.12">(</text><text x="589.6" y="57.8" font-size="21.5" font-weight="bold" font-style="italic" fill="#000" textLength="14.60" lengthAdjust="spacingAndGlyphs" stroke="#000" stroke-width="0.12">x</text><text x="604.2" y="57.8" font-size="21.5" font-weight="normal" font-style="normal" fill="#000" textLength="5.00" lengthAdjust="spacingAndGlyphs" stroke="#000" stroke-width="0.12">)</text><text x="611.8" y="57.8" font-size="21.5" font-weight="normal" font-style="normal" fill="#000" textLength="4.10" lengthAdjust="spacingAndGlyphs" stroke="#000" stroke-width="0.12">,</text><text x="621.3" y="57.8" font-size="21.5" font-weight="normal" font-style="italic" fill="#000" textLength="11.50" lengthAdjust="spacingAndGlyphs" stroke="#000" stroke-width="0.12">k</text><text x="632.8" y="57.8" font-size="21.5" font-weight="normal" font-style="normal" fill="#000" textLength="7.50" lengthAdjust="spacingAndGlyphs" stroke="#000" stroke-width="0.12">(</text><text x="641.0" y="57.8" font-size="21.5" font-weight="bold" font-style="italic" fill="#000" textLength="13.50" lengthAdjust="spacingAndGlyphs" stroke="#000" stroke-width="0.12">x</text><text x="655.2" y="57.8" font-size="21.5" font-weight="normal" font-style="normal" fill="#000" textLength="3.40" lengthAdjust="spacingAndGlyphs" stroke="#000" stroke-width="0.12">,</text><text x="663.3" y="57.8" font-size="21.5" font-weight="bold" font-style="italic" fill="#000" textLength="13.60" lengthAdjust="spacingAndGlyphs" stroke="#000" stroke-width="0.12">x</text><text x="676.2" y="57.8" font-size="21.5" font-weight="normal" font-style="normal" fill="#000" textLength="4.10" lengthAdjust="spacingAndGlyphs" stroke="#000" stroke-width="0.12">&#8242;</text><text x="681.7" y="57.8" font-size="21.5" font-weight="normal" font-style="normal" fill="#000" textLength="6.70" lengthAdjust="spacingAndGlyphs" stroke="#000" stroke-width="0.12">)</text><text x="689.8" y="57.8" font-size="21.5" font-weight="normal" font-style="normal" fill="#000" textLength="6.80" lengthAdjust="spacingAndGlyphs" stroke="#000" stroke-width="0.12">)</text><text x="38.1" y="359.0" font-size="19.6" font-weight="normal" font-style="italic" fill="#454545" textLength="76.90" lengthAdjust="spacingAndGlyphs" >Working</text><text x="121.2" y="359.0" font-size="19.6" font-weight="normal" font-style="italic" fill="#454545" textLength="39.30" lengthAdjust="spacingAndGlyphs" >with</text><text x="165.79999999999998" y="359.0" font-size="19.6" font-weight="normal" font-style="italic" fill="#454545" textLength="28.10" lengthAdjust="spacingAndGlyphs" >the</text><text x="199.1" y="359.0" font-size="19.6" font-weight="normal" font-style="italic" fill="#454545" textLength="51.40" lengthAdjust="spacingAndGlyphs" >graph</text><text x="255.7" y="359.0" font-size="19.6" font-weight="normal" font-style="italic" fill="#454545" textLength="56.00" lengthAdjust="spacingAndGlyphs" >allows</text><text x="315.8" y="359.0" font-size="19.6" font-weight="normal" font-style="italic" fill="#454545" textLength="29.20" lengthAdjust="spacingAndGlyphs" >for</text><text x="350.2" y="359.0" font-size="19.6" font-weight="normal" font-style="italic" fill="#454545" textLength="24.80" lengthAdjust="spacingAndGlyphs" >di-</text><text x="37.0" y="383.6" font-size="19.6" font-weight="normal" font-style="italic" fill="#454545" textLength="34.70" lengthAdjust="spacingAndGlyphs" >rect</text><text x="75.8" y="383.6" font-size="19.6" font-weight="normal" font-style="italic" fill="#454545" textLength="89.30" lengthAdjust="spacingAndGlyphs" >modelling</text><text x="170.2" y="383.6" font-size="19.6" font-weight="normal" font-style="italic" fill="#454545" textLength="18.20" lengthAdjust="spacingAndGlyphs" >of</text><text x="193.6" y="383.6" font-size="19.6" font-weight="normal" font-style="italic" fill="#454545" textLength="138.10" lengthAdjust="spacingAndGlyphs" >spatio-temporal</text><text x="336.9" y="383.6" font-size="19.6" font-weight="normal" font-style="italic" fill="#454545" textLength="49.10" lengthAdjust="spacingAndGlyphs" >diffu-</text><text x="37.0" y="408.0" font-size="19.6" font-weight="normal" font-style="italic" fill="#454545" textLength="38.10" lengthAdjust="spacingAndGlyphs" >sion</text><text x="81.3" y="408.0" font-size="19.6" font-weight="normal" font-style="italic" fill="#454545" textLength="39.20" lengthAdjust="spacingAndGlyphs" >over</text><text x="126.8" y="408.0" font-size="19.6" font-weight="normal" font-style="italic" fill="#454545" textLength="28.10" lengthAdjust="spacingAndGlyphs" >the</text><text x="159.2" y="408.0" font-size="19.6" font-weight="normal" font-style="italic" fill="#454545" textLength="51.40" lengthAdjust="spacingAndGlyphs" >graph</text><text x="215.7" y="408.0" font-size="19.6" font-weight="normal" font-style="italic" fill="#454545" textLength="51.50" lengthAdjust="spacingAndGlyphs" >nodes</text><text x="273.59999999999997" y="408.0" font-size="19.6" font-weight="normal" font-style="italic" fill="#454545" textLength="19.30" lengthAdjust="spacingAndGlyphs" >as</text><text x="299.2" y="408.0" font-size="19.6" font-weight="normal" font-style="italic" fill="#454545" textLength="83.50" lengthAdjust="spacingAndGlyphs" >described</text><text x="37.0" y="432.3" font-size="19.6" font-weight="normal" font-style="italic" fill="#454545" textLength="21.40" lengthAdjust="spacingAndGlyphs" >by</text><text x="62.5" y="432.3" font-size="19.6" font-weight="normal" font-style="italic" fill="#454545" textLength="29.20" lengthAdjust="spacingAndGlyphs" >the</text><text x="96.9" y="432.3" font-size="19.6" font-weight="normal" font-style="italic" fill="#454545" textLength="62.90" lengthAdjust="spacingAndGlyphs" >SPDE.</text><rect x="523.2" y="336.8" width="178.2" height="106.9" fill="none" stroke="#333" stroke-width="1.4"/><path d="M529.5,438 L532,410 L538,400 L545,392 L535,420 Z" fill="#a9c4ea" opacity="0.6"/><path d="M531.0,428.0 C532.1,424.7 534.9,414.8 537.6,408.2 C540.3,401.6 544.8,393.0 547.1,388.2 C549.4,383.4 550.1,381.6 551.5,379.5 C552.9,377.4 554.0,376.5 555.5,375.6 C557.0,374.7 558.6,374.5 560.5,374.2 C562.4,373.9 564.8,373.9 567.0,374.0 C569.2,374.1 571.3,374.8 573.5,374.5 C575.7,374.2 577.9,373.2 580.0,372.5 C582.1,371.8 583.3,371.4 586.1,370.3 C588.9,369.2 593.5,367.5 596.7,366.1 C599.9,364.7 602.3,363.0 605.1,361.9 C607.9,360.8 611.0,360.2 613.5,359.6 C616.0,359.0 617.8,358.5 620.0,358.4 C622.2,358.3 624.8,358.5 627.0,359.0 C629.2,359.5 630.8,360.5 633.0,361.5 C635.2,362.5 637.6,363.9 640.0,364.8 C642.4,365.7 644.9,366.2 647.4,366.6 C649.9,367.0 652.6,367.3 655.0,367.4 C657.4,367.5 658.9,367.7 661.5,367.2 C664.1,366.7 667.8,365.6 670.6,364.6 C673.4,363.6 675.5,362.4 678.3,361.4 C681.1,360.4 684.7,359.0 687.3,358.4 C689.9,357.8 692.7,357.9 693.8,357.8" fill="none" stroke="#a9c4ea" stroke-width="5.2" stroke-linejoin="round" stroke-linecap="round" opacity="0.85"/><path d="M531.0,428.0 C532.1,424.7 534.9,414.8 537.6,408.2 C540.3,401.6 544.8,393.0 547.1,388.2 C549.4,383.4 550.1,381.6 551.5,379.5 C552.9,377.4 554.0,376.5 555.5,375.6 C557.0,374.7 558.6,374.5 560.5,374.2 C562.4,373.9 564.8,373.9 567.0,374.0 C569.2,374.1 571.3,374.8 573.5,374.5 C575.7,374.2 577.9,373.2 580.0,372.5 C582.1,371.8 583.3,371.4 586.1,370.3 C588.9,369.2 593.5,367.5 596.7,366.1 C599.9,364.7 602.3,363.0 605.1,361.9 C607.9,360.8 611.0,360.2 613.5,359.6 C616.0,359.0 617.8,358.5 620.0,358.4 C622.2,358.3 624.8,358.5 627.0,359.0 C629.2,359.5 630.8,360.5 633.0,361.5 C635.2,362.5 637.6,363.9 640.0,364.8 C642.4,365.7 644.9,366.2 647.4,366.6 C649.9,367.0 652.6,367.3 655.0,367.4 C657.4,367.5 658.9,367.7 661.5,367.2 C664.1,366.7 667.8,365.6 670.6,364.6 C673.4,363.6 675.5,362.4 678.3,361.4 C681.1,360.4 684.7,359.0 687.3,358.4 C689.9,357.8 692.7,357.9 693.8,357.8" fill="none" stroke="#3f74bd" stroke-width="1.8" stroke-linejoin="round"/><path d="M672,363 C680,356 688,347 693.8,342.5 L693.8,373.8 C688,368 680,366 672,364 Z" fill="#b8cdee" opacity="0.75"/><path d="M672,363.2 Q684,355.0 693.8,347" fill="none" stroke="#6f98d4" stroke-width="0.5" opacity="0.6"/><path d="M672,363.2 Q684,357.5 693.8,352" fill="none" stroke="#6f98d4" stroke-width="0.5" opacity="0.6"/><path d="M672,363.2 Q684,359.5 693.8,356" fill="none" stroke="#6f98d4" stroke-width="0.5" opacity="0.6"/><path d="M672,363.2 Q684,362.0 693.8,361" fill="none" stroke="#6f98d4" stroke-width="0.5" opacity="0.6"/><path d="M672,363.2 Q684,364.5 693.8,366" fill="none" stroke="#6f98d4" stroke-width="0.5" opacity="0.6"/><path d="M672,363.2 Q684,366.5 693.8,370" fill="none" stroke="#6f98d4" stroke-width="0.5" opacity="0.6"/><path d="M546.4,386.0 L548.6,388.2 M546.4,388.2 L548.6,386.0" stroke="#2a2a2a" stroke-width="0.6"/><path d="M553.9,374.7 L556.1,376.9 M553.9,376.9 L556.1,374.7" stroke="#2a2a2a" stroke-width="0.6"/><path d="M558.5,373.1 L560.7,375.3 M558.5,375.3 L560.7,373.1" stroke="#2a2a2a" stroke-width="0.6"/><path d="M563.1,372.7 L565.3,374.9 M563.1,374.9 L565.3,372.7" stroke="#2a2a2a" stroke-width="0.6"/><path d="M567.7,372.7 L569.9,374.9 M567.7,374.9 L569.9,372.7" stroke="#2a2a2a" stroke-width="0.6"/><path d="M572.3,373.1 L574.5,375.3 M572.3,375.3 L574.5,373.1" stroke="#2a2a2a" stroke-width="0.6"/><path d="M576.9,371.7 L579.1,373.9 M576.9,373.9 L579.1,371.7" stroke="#2a2a2a" stroke-width="0.6"/><path d="M581.5,370.2 L583.7,372.4 M581.5,372.4 L583.7,370.2" stroke="#2a2a2a" stroke-width="0.6"/><path d="M586.1,368.5 L588.3,370.7 M586.1,370.7 L588.3,368.5" stroke="#2a2a2a" stroke-width="0.6"/><path d="M590.7,366.6 L592.9,368.8 M590.7,368.8 L592.9,366.6" stroke="#2a2a2a" stroke-width="0.6"/><path d="M595.3,364.8 L597.5,367.0 M595.3,367.0 L597.5,364.8" stroke="#2a2a2a" stroke-width="0.6"/><path d="M599.9,362.5 L602.1,364.7 M599.9,364.7 L602.1,362.5" stroke="#2a2a2a" stroke-width="0.6"/><path d="M604.5,360.4 L606.7,362.6 M604.5,362.6 L606.7,360.4" stroke="#2a2a2a" stroke-width="0.6"/><path d="M609.1,359.1 L611.3,361.3 M609.1,361.3 L611.3,359.1" stroke="#2a2a2a" stroke-width="0.6"/><path d="M613.7,358.0 L615.9,360.2 M613.7,360.2 L615.9,358.0" stroke="#2a2a2a" stroke-width="0.6"/><path d="M618.3,357.1 L620.5,359.3 M618.3,359.3 L620.5,357.1" stroke="#2a2a2a" stroke-width="0.6"/><path d="M622.9,357.3 L625.1,359.5 M622.9,359.5 L625.1,357.3" stroke="#2a2a2a" stroke-width="0.6"/><path d="M627.5,358.3 L629.7,360.5 M627.5,360.5 L629.7,358.3" stroke="#2a2a2a" stroke-width="0.6"/><path d="M632.1,360.2 L634.3,362.4 M632.1,362.4 L634.3,360.2" stroke="#2a2a2a" stroke-width="0.6"/><path d="M636.7,362.4 L638.9,364.6 M636.7,364.6 L638.9,362.4" stroke="#2a2a2a" stroke-width="0.6"/><path d="M641.3,364.0 L643.5,366.2 M641.3,366.2 L643.5,364.0" stroke="#2a2a2a" stroke-width="0.6"/><path d="M645.9,365.1 L648.1,367.3 M645.9,367.3 L648.1,365.1" stroke="#2a2a2a" stroke-width="0.6"/><path d="M650.5,365.6 L652.7,367.8 M650.5,367.8 L652.7,365.6" stroke="#2a2a2a" stroke-width="0.6"/><path d="M655.1,366.0 L657.3,368.2 M655.1,368.2 L657.3,366.0" stroke="#2a2a2a" stroke-width="0.6"/><path d="M659.7,365.8 L661.9,368.0 M659.7,368.0 L661.9,365.8" stroke="#2a2a2a" stroke-width="0.6"/><path d="M664.3,364.7 L666.5,366.9 M664.3,366.9 L666.5,364.7" stroke="#2a2a2a" stroke-width="0.6"/><path d="M668.9,363.4 L671.1,365.6 M668.9,365.6 L671.1,363.4" stroke="#2a2a2a" stroke-width="0.6"/><path d="M673.5,361.5 L675.7,363.7 M673.5,363.7 L675.7,361.5" stroke="#2a2a2a" stroke-width="0.6"/><path d="M677.4,359.9 L679.6,362.1 M677.4,362.1 L679.6,359.9" stroke="#c05050" stroke-width="0.7"/><path d="M680.9,358.8 L683.1,361.0 M680.9,361.0 L683.1,358.8" stroke="#c05050" stroke-width="0.7"/><path d="M624.2,439.6 L636.4,439.6 M633.6,437.4 Q635,439 636.6,439.6 Q635,440.2 633.6,441.8" stroke="#111" stroke-width="0.8" fill="none"/><text x="587.4" y="441.6" font-size="10" font-weight="normal" font-style="normal" fill="#000" textLength="30.90" lengthAdjust="spacingAndGlyphs" >Time</text></svg>
</body></html>
